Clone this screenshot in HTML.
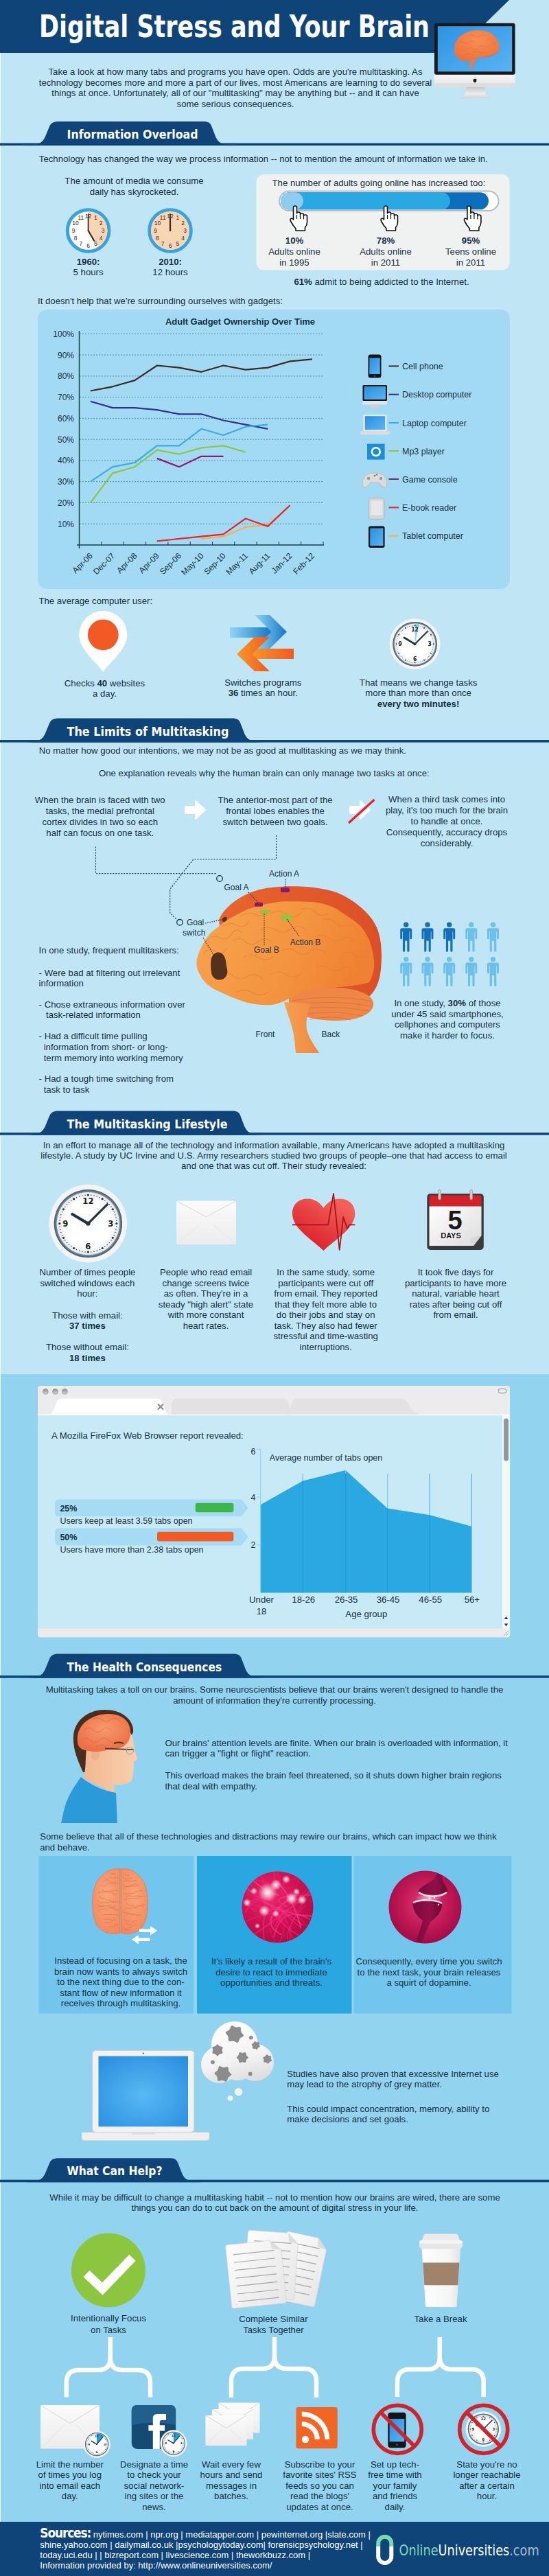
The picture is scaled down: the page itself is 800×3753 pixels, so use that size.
<!DOCTYPE html>
<html><head><meta charset="utf-8"><title>Digital Stress and Your Brain</title>
<style>
html,body{margin:0;padding:0;background:#c0e6f6;}
body{width:800px;height:3753px;overflow:hidden;position:relative;}
svg{display:block;position:absolute;left:0;top:0;}
text{font-family:"Liberation Sans",Arial,sans-serif;font-size:13.2px;fill:#15303f;}
.c{text-anchor:middle;}
.b{font-weight:bold;}
.h{font-family:"DejaVu Sans Condensed","DejaVu Sans",sans-serif;font-weight:bold;font-size:18px;fill:#fff;}
.s{font-size:12px;}
</style></head>
<body>
<svg width="800" height="3753" viewBox="0 0 800 3753">
<defs>
<linearGradient id="gBlueArr" x1="0" x2="1" y1="0" y2="0"><stop offset="0" stop-color="#8fd6f6"/><stop offset="1" stop-color="#1677c4"/></linearGradient>
<linearGradient id="gOrArr" x1="0" x2="1" y1="0" y2="0"><stop offset="0" stop-color="#f59a2c"/><stop offset="1" stop-color="#f0591f"/></linearGradient>
<linearGradient id="gScreen" x1="0" x2="1" y1="0" y2="1"><stop offset="0" stop-color="#2a8ee0"/><stop offset="1" stop-color="#5ab6f2"/></linearGradient>
<linearGradient id="gBrainF" x1="0" x2="1" y1="0" y2="0.3"><stop offset="0" stop-color="#f7a450"/><stop offset="0.6" stop-color="#f4953f"/><stop offset="1" stop-color="#ef8232"/></linearGradient>
<linearGradient id="gBrainBack" x1="0" x2="1" y1="0" y2="0"><stop offset="0" stop-color="#e8652f"/><stop offset="1" stop-color="#dc4f26"/></linearGradient>
<linearGradient id="gStem" x1="0" x2="1" y1="0" y2="0"><stop offset="0" stop-color="#f5a050"/><stop offset="1" stop-color="#ee8a40"/></linearGradient>
<radialGradient id="gBrain" cx="0.45" cy="0.4" r="0.7"><stop offset="0" stop-color="#f7a560"/><stop offset="1" stop-color="#ef7a34"/></radialGradient>
<radialGradient id="gClockRing" cx="0.5" cy="0.5" r="0.5"><stop offset="0.88" stop-color="#a9b8bf"/><stop offset="1" stop-color="#3b5260"/></radialGradient>
<radialGradient id="gClockFace" cx="0.5" cy="0.5" r="0.5"><stop offset="0.75" stop-color="#ffffff"/><stop offset="1" stop-color="#e4e8ea"/></radialGradient>
<linearGradient id="gEnv" x1="0" x2="0" y1="0" y2="1"><stop offset="0" stop-color="#fbfbfb"/><stop offset="1" stop-color="#ececec"/></linearGradient>
<linearGradient id="gHeart" x1="0.8" x2="0.2" y1="0.1" y2="0.9"><stop offset="0" stop-color="#f5605a"/><stop offset="1" stop-color="#d81e28"/></linearGradient>
<linearGradient id="gPage" x1="0" x2="1" y1="0" y2="1"><stop offset="0" stop-color="#ffffff"/><stop offset="1" stop-color="#dcdcdc"/></linearGradient>
<linearGradient id="gDot" x1="0" x2="0" y1="0" y2="1"><stop offset="0" stop-color="#8d8d8d"/><stop offset="1" stop-color="#d8d8d8"/></linearGradient>
<linearGradient id="gSkin" x1="0" x2="1" y1="0" y2="0"><stop offset="0" stop-color="#f1b890"/><stop offset="1" stop-color="#f8cfae"/></linearGradient>
<radialGradient id="gBrainH" cx="0.5" cy="0.4" r="0.6"><stop offset="0" stop-color="#f79a6e"/><stop offset="1" stop-color="#ec6f45"/></radialGradient>
<radialGradient id="gBrainT" cx="0.5" cy="0.4" r="0.7"><stop offset="0" stop-color="#f8a47c"/><stop offset="1" stop-color="#f2875a"/></radialGradient>
<radialGradient id="gNeuro" cx="0.4" cy="0.35" r="0.7"><stop offset="0" stop-color="#e8286a"/><stop offset="0.6" stop-color="#cc1050"/><stop offset="1" stop-color="#b00c44"/></radialGradient>
<radialGradient id="gGlow"><stop offset="0" stop-color="#fff" stop-opacity="1"/><stop offset="1" stop-color="#fff" stop-opacity="0"/></radialGradient>
<radialGradient id="gSyn" cx="0.5" cy="0.45" r="0.55"><stop offset="0" stop-color="#e0407a"/><stop offset="0.55" stop-color="#c41a58"/><stop offset="1" stop-color="#a20c44"/></radialGradient>
<radialGradient id="gLapScreen" cx="0.5" cy="0.55" r="0.7"><stop offset="0" stop-color="#58b9f3"/><stop offset="1" stop-color="#2a8ee0"/></radialGradient>
<radialGradient id="gCloud" cx="0.45" cy="0.4" r="0.6"><stop offset="0.5" stop-color="#f7f7f7"/><stop offset="1" stop-color="#d6d6d6"/></radialGradient>
<linearGradient id="gSheet" x1="0" x2="1" y1="0" y2="1"><stop offset="0" stop-color="#fdfdfd"/><stop offset="1" stop-color="#e6e6e6"/></linearGradient>
<linearGradient id="gCup" x1="0" x2="1" y1="0" y2="0"><stop offset="0" stop-color="#fdfdfd"/><stop offset="0.7" stop-color="#f6f6f6"/><stop offset="1" stop-color="#e2e2e2"/></linearGradient>
<linearGradient id="gChin" x1="0" x2="0" y1="0" y2="1"><stop offset="0" stop-color="#f6f6f6"/><stop offset="1" stop-color="#e4e4e4"/></linearGradient>
<linearGradient id="gStand" x1="0" x2="0" y1="0" y2="1"><stop offset="0" stop-color="#c8c8c8"/><stop offset="0.6" stop-color="#ececec"/><stop offset="1" stop-color="#d4d4d4"/></linearGradient>
<linearGradient id="gScreen2" x1="0" x2="1" y1="0" y2="1"><stop offset="0" stop-color="#2f93e3"/><stop offset="1" stop-color="#58b4f2"/></linearGradient>
<radialGradient id="gBrainHd" cx="0.5" cy="0.3" r="0.75"><stop offset="0" stop-color="#f78e58"/><stop offset="1" stop-color="#ee7038"/></radialGradient>
<linearGradient id="gCloud2" gradientUnits="userSpaceOnUse" x1="330" x2="355" y1="2945" y2="3036"><stop offset="0" stop-color="#ffffff"/><stop offset="0.6" stop-color="#f3f3f3"/><stop offset="1" stop-color="#dcdcdc"/></linearGradient>
<linearGradient id="gNeuron" x1="0" x2="1" y1="0" y2="0"><stop offset="0" stop-color="#7a0a3a"/><stop offset="0.6" stop-color="#930f48"/><stop offset="1" stop-color="#6c0833"/></linearGradient>
</defs>
<!-- backgrounds -->
<rect x="0" y="2002" width="800" height="1672" fill="#92d3f0"/>
<rect x="0" y="3674" width="800" height="79" fill="#0f4479"/>
<rect x="0" y="77" width="1" height="3597" fill="#eef8fd"/>

<!-- HEADER -->
<path d="M0 0 H742 L663 77 H0 Z" fill="#0f4479"/>
<text x="57" y="54" textLength="569" lengthAdjust="spacingAndGlyphs" style="font-family:'DejaVu Sans Condensed','DejaVu Sans',sans-serif;font-size:44px;font-weight:bold;fill:#fff">Digital Stress and Your Brain</text>
<g id="intro">
<text class="c" x="343" y="109">Take a look at how many tabs and programs you have open. Odds are you're multitasking. As</text>
<text class="c" x="343" y="124.5">technology becomes more and more a part of our lives, most Americans are learning to do several</text>
<text class="c" x="343" y="140">things at once. Unfortunately, all of our "multitasking" may be anything but -- and it can have</text>
<text class="c" x="343" y="156">some serious consequences.</text>
</g>




<g id="imac">
<path d="M633,127 V108.7 H750.6 V123 Q750.6,127 746.6,127 Z" fill="url(#gChin)"/>
<path d="M637,127 H746.6 Q750.6,127 750.6,123 V121 H633 V123 Q633,127 637,127 Z" fill="#dedede"/>
<rect x="633" y="33.8" width="117.6" height="75" rx="3" fill="#1a1a1a"/>
<rect x="637.8" y="38.2" width="108.4" height="66.1" fill="url(#gScreen2)"/>
<path d="M679.6,127 H706 L708,138 L714.3,141.5 V143 H670.5 V141.5 L677.6,138 Z" fill="url(#gStand)"/>
<path d="M692.2,114.3 q1.2,-0.3 1.6,-1.6 q-1.3,0.1 -1.6,1.6 Z M690.2,115.3 q1.6,-0.9 2.2,0 q0.8,-0.9 2.3,0 q-1.3,1 -0.2,2.6 q-0.5,1.6 -1.3,2.2 q-0.8,0.4 -1,0 q-0.4,0.3 -1.1,0 q-1.4,-1.1 -1.6,-2.9 q0,-1.6 0.7,-1.9 Z" fill="#1a1a1a"/>
</g>
<g id="hbrain">
<path d="M686.9,85 C687,90 684,95 682.8,99.1 L687.7,99.1 C690,95 692,90 694.3,85 Z" fill="#f07a44"/>
<path d="M662.3,73.7 C661.5,68 662.5,64 664.8,60.6 C667,56 670,52.5 674.6,49.9 C680,46.5 685,44.8 691,44.2 C697,43.6 702,44 707.4,45 C713,46.5 717,49 720.5,52.4 C724,56 726,60 727,63.9 C728,67 728,71 727,73.7 C726,76 724,77 722,77.8 C718,80 714,81 710.7,81.9 C706,82.8 702,83 699,83.5 C696,84 694,85 690,86.5 C686,88 682,89.5 677.9,89.3 C674,89 671,87 668,85.2 C666,83.5 664.5,82 664,80.3 C663,78 662.5,76 662.3,73.7 Z" fill="url(#gBrainHd)"/>
<path d="M700,83.3 C706,82.7 712,81.5 718,79 C722,77.5 725,76 726.5,74 C724,79 718,82 712,83.5 C707,84.5 703,84.5 700,83.3 Z" fill="#e8693a" opacity="0.6"/>
<g stroke="#e0642f" stroke-width="0.7" fill="none" opacity="0.55"><path d="M668,62 q4,-3 8,0 q4,3 8,-1 q4,-3 8,0"/><path d="M665,72 q4,-3 8,0 q4,3 8,-1 q4,-3 8,0 q4,3 8,-1"/><path d="M684,52 q4,-3 8,1 q4,3 8,-1 q4,-3 8,2"/><path d="M698,68 q4,-3 8,0 q4,3 8,-2 q4,-2 7,1"/><path d="M710,58 q4,-2 7,3 q3,4 7,1"/><path d="M670,80 q5,3 10,-1 q5,-3 10,2"/><path d="M690,76 q5,-3 10,0 q5,3 9,-1"/></g>
</g>

<rect x="0" y="208.5" width="800" height="3.6" fill="#0f4479"/>
<path d="M34,212.1 C55,212.1 61,209.1 65.5,200.1 L72,184.5 C74.5,179 77.5,177 86,177 H296.0 C304.0,177 306.5,179 308.5,184.5 L314.5,200.1 C319.0,209.1 325.0,212.1 346.0,212.1 Z" fill="#0f4479"/>
<text class="h" x="97.5" y="202" textLength="191" lengthAdjust="spacingAndGlyphs">Information Overload</text>
<rect x="0" y="1078.0" width="800" height="3.6" fill="#0f4479"/>
<path d="M34,1081.6 C55,1081.6 61,1078.6 65.5,1069.6 L72,1054.0 C74.5,1048.5 77.5,1046.5 86,1046.5 H338.0 C346.0,1046.5 348.5,1048.5 350.5,1054.0 L356.5,1069.6 C361.0,1078.6 367.0,1081.6 388.0,1081.6 Z" fill="#0f4479"/>
<text class="h" x="97.5" y="1071.5" textLength="236" lengthAdjust="spacingAndGlyphs">The Limits of Multitasking</text>
<rect x="0" y="1650.1" width="800" height="3.6" fill="#0f4479"/>
<path d="M34,1653.6999999999998 C55,1653.6999999999998 61,1650.6999999999998 65.5,1641.6999999999998 L72,1626.1 C74.5,1620.6 77.5,1618.6 86,1618.6 H338.0 C346.0,1618.6 348.5,1620.6 350.5,1626.1 L356.5,1641.6999999999998 C361.0,1650.6999999999998 367.0,1653.6999999999998 388.0,1653.6999999999998 Z" fill="#0f4479"/>
<text class="h" x="97.5" y="1643.6" textLength="234" lengthAdjust="spacingAndGlyphs">The Multitasking Lifestyle</text>
<rect x="0" y="2441.1" width="800" height="3.6" fill="#0f4479"/>
<path d="M34,2444.7 C55,2444.7 61,2441.7 65.5,2432.7 L72,2417.1 C74.5,2411.6 77.5,2409.6 86,2409.6 H339.6 C347.6,2409.6 350.1,2411.6 352.1,2417.1 L358.1,2432.7 C362.6,2441.7 368.6,2444.7 389.6,2444.7 Z" fill="#0f4479"/>
<text class="h" x="97.5" y="2434.6" textLength="225.6" lengthAdjust="spacingAndGlyphs">The Health Consequences</text>
<rect x="0" y="3175.7" width="800" height="3.6" fill="#0f4479"/>
<path d="M34,3179.2999999999997 C55,3179.2999999999997 61,3176.2999999999997 65.5,3167.2999999999997 L72,3151.7 C74.5,3146.2 77.5,3144.2 86,3144.2 H247.0 C255.0,3144.2 257.5,3146.2 259.5,3151.7 L265.5,3167.2999999999997 C270.0,3176.2999999999997 276.0,3179.2999999999997 297.0,3179.2999999999997 Z" fill="#0f4479"/>
<text class="h" x="97.5" y="3169.2" textLength="139" lengthAdjust="spacingAndGlyphs">What Can Help?</text>

<text x="56.8" y="236">Technology has changed the way we process information -- not to mention the amount of information we take in.</text>
<text class="c" x="195.5" y="268">The amount of media we consume</text>
<text class="c" x="195.5" y="284">daily has skyrocketed.</text>
<circle cx="128.6" cy="336" r="30.3" fill="#fff" stroke="#3aa3dc" stroke-width="5"/>
<path d="M128.6,336 L128.6,308.2 A27.8,27.8 0 0 1 142.5,360.1 Z" fill="#f8d5b3"/>
<text x="139.3" y="320.4" class="c" style="font-size:8.5px;fill:#3b2b22">1</text>
<text x="147.2" y="328.2" class="c" style="font-size:8.5px;fill:#3b2b22">2</text>
<text x="150.1" y="339.0" class="c" style="font-size:8.5px;fill:#3b2b22">3</text>
<text x="147.2" y="349.8" class="c" style="font-size:8.5px;fill:#3b2b22">4</text>
<text x="139.3" y="357.6" class="c" style="font-size:8.5px;fill:#3b2b22">5</text>
<text x="128.6" y="360.5" class="c" style="font-size:8.5px;fill:#3b2b22">6</text>
<text x="117.8" y="357.6" class="c" style="font-size:8.5px;fill:#3b2b22">7</text>
<text x="110.0" y="349.8" class="c" style="font-size:8.5px;fill:#3b2b22">8</text>
<text x="107.1" y="339.0" class="c" style="font-size:8.5px;fill:#3b2b22">9</text>
<text x="110.0" y="328.2" class="c" style="font-size:8.5px;fill:#3b2b22">10</text>
<text x="117.8" y="320.4" class="c" style="font-size:8.5px;fill:#3b2b22">11</text>
<text x="128.6" y="317.5" class="c" style="font-size:8.5px;fill:#3b2b22">12</text>
<line x1="128.6" y1="336" x2="128.6" y2="312" stroke="#3b2b22" stroke-width="1.8" stroke-linecap="round"/>
<line x1="128.6" y1="336" x2="137.1" y2="350.7" stroke="#3b2b22" stroke-width="2.2" stroke-linecap="round"/>
<circle cx="248" cy="336" r="30.3" fill="#fff" stroke="#3aa3dc" stroke-width="5"/>
<circle cx="248" cy="336" r="27.8" fill="#f8d5b3"/>
<text x="258.8" y="320.4" class="c" style="font-size:8.5px;fill:#3b2b22">1</text>
<text x="266.6" y="328.2" class="c" style="font-size:8.5px;fill:#3b2b22">2</text>
<text x="269.5" y="339.0" class="c" style="font-size:8.5px;fill:#3b2b22">3</text>
<text x="266.6" y="349.8" class="c" style="font-size:8.5px;fill:#3b2b22">4</text>
<text x="258.8" y="357.6" class="c" style="font-size:8.5px;fill:#3b2b22">5</text>
<text x="248.0" y="360.5" class="c" style="font-size:8.5px;fill:#3b2b22">6</text>
<text x="237.2" y="357.6" class="c" style="font-size:8.5px;fill:#3b2b22">7</text>
<text x="229.4" y="349.8" class="c" style="font-size:8.5px;fill:#3b2b22">8</text>
<text x="226.5" y="339.0" class="c" style="font-size:8.5px;fill:#3b2b22">9</text>
<text x="229.4" y="328.2" class="c" style="font-size:8.5px;fill:#3b2b22">10</text>
<text x="237.2" y="320.4" class="c" style="font-size:8.5px;fill:#3b2b22">11</text>
<text x="248.0" y="317.5" class="c" style="font-size:8.5px;fill:#3b2b22">12</text>
<line x1="248" y1="336" x2="248" y2="312" stroke="#3b2b22" stroke-width="1.8" stroke-linecap="round"/>
<line x1="248" y1="336" x2="248.0" y2="319.0" stroke="#3b2b22" stroke-width="2.2" stroke-linecap="round"/>
<text class="c b" x="128.6" y="385.5">1960:</text><text class="c" x="128.6" y="401">5 hours</text>
<text class="c b" x="248" y="385.5">2010:</text><text class="c" x="248" y="401">12 hours</text>
<rect x="373.5" y="254" width="369" height="139.5" rx="11" fill="#f0f2f2"/>
<text x="396.5" y="271">The number of adults going online has increased too:</text>
<rect x="407" y="278.5" width="319.5" height="28.5" rx="14.25" fill="#fff" stroke="#b7bec3" stroke-width="2"/>
<rect x="409" y="280.3" width="303" height="25" rx="12.5" fill="#0b6fbe"/>
<rect x="409" y="280.3" width="247" height="25" rx="12.5" fill="#2aa8e2"/>
<rect x="409" y="280.3" width="33" height="25" rx="12.5" fill="#8dcdf0"/>
<g transform="translate(422.5,300)"><path d="M5 2.5 Q5 0 7.5 0 Q10 0 10 2.5 L10 11 Q10 9 12.5 9 Q15 9 15 11 L15 12.5 Q15 11 17.5 11 Q20 11 20 13 L20 14.5 Q20 13 22.5 13 Q25 13 25 15 L25 24 Q25 28 22 31.5 L22 36 L8.5 36 L8.5 33 Q5 29.5 1.5 23 Q-0.5 19.5 1.5 18.5 Q3.5 17.5 5 20 Z" fill="#fff" stroke="#111" stroke-width="1.6" stroke-linejoin="round"/><path d="M10 13 V19 M15 13 V19 M20 15 V19.5" stroke="#111" stroke-width="1.2"/></g>
<g transform="translate(554.5,300)"><path d="M5 2.5 Q5 0 7.5 0 Q10 0 10 2.5 L10 11 Q10 9 12.5 9 Q15 9 15 11 L15 12.5 Q15 11 17.5 11 Q20 11 20 13 L20 14.5 Q20 13 22.5 13 Q25 13 25 15 L25 24 Q25 28 22 31.5 L22 36 L8.5 36 L8.5 33 Q5 29.5 1.5 23 Q-0.5 19.5 1.5 18.5 Q3.5 17.5 5 20 Z" fill="#fff" stroke="#111" stroke-width="1.6" stroke-linejoin="round"/><path d="M10 13 V19 M15 13 V19 M20 15 V19.5" stroke="#111" stroke-width="1.2"/></g>
<g transform="translate(675.9,300)"><path d="M5 2.5 Q5 0 7.5 0 Q10 0 10 2.5 L10 11 Q10 9 12.5 9 Q15 9 15 11 L15 12.5 Q15 11 17.5 11 Q20 11 20 13 L20 14.5 Q20 13 22.5 13 Q25 13 25 15 L25 24 Q25 28 22 31.5 L22 36 L8.5 36 L8.5 33 Q5 29.5 1.5 23 Q-0.5 19.5 1.5 18.5 Q3.5 17.5 5 20 Z" fill="#fff" stroke="#111" stroke-width="1.6" stroke-linejoin="round"/><path d="M10 13 V19 M15 13 V19 M20 15 V19.5" stroke="#111" stroke-width="1.2"/></g>
<text class="c b" x="429" y="355">10%</text><text class="c" x="429" y="371">Adults online</text><text class="c" x="429" y="386.5">in 1995</text>
<text class="c b" x="562" y="355">78%</text><text class="c" x="562" y="371">Adults online</text><text class="c" x="562" y="386.5">in 2011</text>
<text class="c b" x="686" y="355">95%</text><text class="c" x="686" y="371">Teens online</text><text class="c" x="686" y="386.5">in 2011</text>
<text class="c" x="556" y="415"><tspan class="b">61%</tspan> admit to being addicted to the Internet.</text>
<text x="55" y="442.8">It doesn't help that we're surrounding ourselves with gadgets:</text>
<rect x="55" y="451" width="688" height="407" rx="14" fill="#a3daf3"/>
<text class="b c" x="350" y="473" textLength="218" style="font-size:13px">Adult Gadget Ownership Over Time</text>
<line x1="116" x2="470" y1="763.2" y2="763.2" stroke="#5a8aa5" stroke-width="1" stroke-dasharray="2,2"/>
<text x="108" y="767.5" style="font-size:12px;text-anchor:end">10%</text>
<line x1="116" x2="470" y1="732.5" y2="732.5" stroke="#5a8aa5" stroke-width="1" stroke-dasharray="2,2"/>
<text x="108" y="736.8" style="font-size:12px;text-anchor:end">20%</text>
<line x1="116" x2="470" y1="701.7" y2="701.7" stroke="#5a8aa5" stroke-width="1" stroke-dasharray="2,2"/>
<text x="108" y="706.0" style="font-size:12px;text-anchor:end">30%</text>
<line x1="116" x2="470" y1="671.0" y2="671.0" stroke="#5a8aa5" stroke-width="1" stroke-dasharray="2,2"/>
<text x="108" y="675.3" style="font-size:12px;text-anchor:end">40%</text>
<line x1="116" x2="470" y1="640.2" y2="640.2" stroke="#5a8aa5" stroke-width="1" stroke-dasharray="2,2"/>
<text x="108" y="644.5" style="font-size:12px;text-anchor:end">50%</text>
<line x1="116" x2="470" y1="609.4" y2="609.4" stroke="#5a8aa5" stroke-width="1" stroke-dasharray="2,2"/>
<text x="108" y="613.7" style="font-size:12px;text-anchor:end">60%</text>
<line x1="116" x2="470" y1="578.7" y2="578.7" stroke="#5a8aa5" stroke-width="1" stroke-dasharray="2,2"/>
<text x="108" y="583.0" style="font-size:12px;text-anchor:end">70%</text>
<line x1="116" x2="470" y1="547.9" y2="547.9" stroke="#5a8aa5" stroke-width="1" stroke-dasharray="2,2"/>
<text x="108" y="552.2" style="font-size:12px;text-anchor:end">80%</text>
<line x1="116" x2="470" y1="517.2" y2="517.2" stroke="#5a8aa5" stroke-width="1" stroke-dasharray="2,2"/>
<text x="108" y="521.5" style="font-size:12px;text-anchor:end">90%</text>
<line x1="116" x2="470" y1="486.4" y2="486.4" stroke="#5a8aa5" stroke-width="1" stroke-dasharray="2,2"/>
<text x="108" y="490.7" style="font-size:12px;text-anchor:end">100%</text>
<line x1="115.5" x2="115.5" y1="482" y2="799" stroke="#1d3a4f" stroke-width="1.5"/>
<line x1="112" x2="472" y1="794" y2="794" stroke="#1d3a4f" stroke-width="1.6"/>
<line x1="148.0" x2="148.0" y1="789" y2="794" stroke="#1d3a4f" stroke-width="1"/>
<line x1="180.3" x2="180.3" y1="789" y2="794" stroke="#1d3a4f" stroke-width="1"/>
<line x1="212.6" x2="212.6" y1="789" y2="794" stroke="#1d3a4f" stroke-width="1"/>
<line x1="244.9" x2="244.9" y1="789" y2="794" stroke="#1d3a4f" stroke-width="1"/>
<line x1="277.2" x2="277.2" y1="789" y2="794" stroke="#1d3a4f" stroke-width="1"/>
<line x1="309.5" x2="309.5" y1="789" y2="794" stroke="#1d3a4f" stroke-width="1"/>
<line x1="341.8" x2="341.8" y1="789" y2="794" stroke="#1d3a4f" stroke-width="1"/>
<line x1="374.1" x2="374.1" y1="789" y2="794" stroke="#1d3a4f" stroke-width="1"/>
<line x1="406.4" x2="406.4" y1="789" y2="794" stroke="#1d3a4f" stroke-width="1"/>
<line x1="438.7" x2="438.7" y1="789" y2="794" stroke="#1d3a4f" stroke-width="1"/>
<line x1="471.0" x2="471.0" y1="789" y2="794" stroke="#1d3a4f" stroke-width="1"/>
<text x="135.8" y="810.5" transform="rotate(-45 135.8 810.5)" style="font-size:12px;text-anchor:end">Apr-06</text>
<text x="168.1" y="810.5" transform="rotate(-45 168.1 810.5)" style="font-size:12px;text-anchor:end">Dec-07</text>
<text x="200.4" y="810.5" transform="rotate(-45 200.4 810.5)" style="font-size:12px;text-anchor:end">Apr-08</text>
<text x="232.8" y="810.5" transform="rotate(-45 232.8 810.5)" style="font-size:12px;text-anchor:end">Apr-09</text>
<text x="265.0" y="810.5" transform="rotate(-45 265.0 810.5)" style="font-size:12px;text-anchor:end">Sep-06</text>
<text x="297.4" y="810.5" transform="rotate(-45 297.4 810.5)" style="font-size:12px;text-anchor:end">May-10</text>
<text x="329.6" y="810.5" transform="rotate(-45 329.6 810.5)" style="font-size:12px;text-anchor:end">Sep-10</text>
<text x="361.9" y="810.5" transform="rotate(-45 361.9 810.5)" style="font-size:12px;text-anchor:end">May-11</text>
<text x="394.2" y="810.5" transform="rotate(-45 394.2 810.5)" style="font-size:12px;text-anchor:end">Aug-11</text>
<text x="426.5" y="810.5" transform="rotate(-45 426.5 810.5)" style="font-size:12px;text-anchor:end">Jan-12</text>
<text x="458.9" y="810.5" transform="rotate(-45 458.9 810.5)" style="font-size:12px;text-anchor:end">Feb-12</text>
<polyline points="131.8,569.5 164.1,563.3 196.4,554.1 228.8,532.5 261.0,535.6 293.4,541.8 325.6,532.5 357.9,538.7 390.2,535.6 422.5,526.4 454.9,523.3" fill="none" stroke="#3d2b22" stroke-width="2.2" stroke-linejoin="round"/>
<polyline points="131.8,584.8 164.1,594.1 196.4,594.1 228.8,597.1 261.0,603.3 293.4,603.3 325.6,612.5 357.9,618.7 390.2,624.8" fill="none" stroke="#2e3192" stroke-width="2.2" stroke-linejoin="round"/>
<polyline points="131.8,701.7 164.1,680.2 196.4,674.0 228.8,649.4 261.0,649.4 293.4,624.8 325.6,634.0 357.9,621.7 390.2,618.7" fill="none" stroke="#35aee6" stroke-width="2.2" stroke-linejoin="round"/>
<polyline points="131.8,732.5 164.1,689.4 196.4,680.2 228.8,655.6 261.0,661.7 293.4,652.5 325.6,649.4 357.9,658.7" fill="none" stroke="#8dc63f" stroke-width="2.2" stroke-linejoin="round"/>
<polyline points="228.8,667.9 261.0,680.2 293.4,664.8 325.6,664.8" fill="none" stroke="#8a1c6d" stroke-width="2.2" stroke-linejoin="round"/>
<polyline points="293.4,784.8 325.6,781.7 357.9,767.9 390.2,764.8 422.5,736.2" fill="none" stroke="#f5b14a" stroke-width="2.2" stroke-linejoin="round"/>
<polyline points="228.8,788.3 325.6,778.3 357.9,755.5 390.2,766.9 422.5,736.2" fill="none" stroke="#e2262b" stroke-width="2.2" stroke-linejoin="round"/>
<rect x="566.5" y="532.4" width="14.5" height="2" fill="#3d2b22"/>
<text x="586" y="537.9" style="font-size:12.5px">Cell phone</text>
<rect x="566.5" y="573.7" width="14.5" height="2" fill="#2e3192"/>
<text x="586" y="579.2" style="font-size:12.5px">Desktop computer</text>
<rect x="566.5" y="615.0" width="14.5" height="2" fill="#35aee6"/>
<text x="586" y="620.5" style="font-size:12.5px">Laptop computer</text>
<rect x="566.5" y="656.0" width="14.5" height="2" fill="#8dc63f"/>
<text x="586" y="661.5" style="font-size:12.5px">Mp3 player</text>
<rect x="566.5" y="697.0" width="14.5" height="2" fill="#8a1c6d"/>
<text x="586" y="702.5" style="font-size:12.5px">Game console</text>
<rect x="566.5" y="738.4" width="14.5" height="2" fill="#e2262b"/>
<text x="586" y="743.9" style="font-size:12.5px">E-book reader</text>
<rect x="566.5" y="779.8" width="14.5" height="2" fill="#f5b14a"/>
<text x="586" y="785.3" style="font-size:12.5px">Tablet computer</text>

<g id="legicons">
<rect x="536.5" y="516.5" width="19" height="34" rx="3.5" fill="#151515"/><rect x="538.3" y="521.5" width="15.4" height="23.5" fill="url(#gScreen)"/><circle cx="546" cy="547.7" r="1.5" fill="#444"/>
<rect x="528.5" y="561" width="35.5" height="23" rx="1.5" fill="#151515"/><rect x="530.5" y="563" width="31.5" height="19" fill="url(#gScreen)"/><rect x="528.5" y="584" width="35.5" height="5.5" fill="#e4e4e4"/><path d="M541 589.5 H551 L553 594 H539 Z" fill="#d0d0d0"/>
<rect x="529.5" y="604" width="34" height="24.5" rx="1.5" fill="#ececec"/><rect x="531.8" y="606.2" width="29.4" height="20" fill="url(#gScreen)"/><path d="M525 628.5 H568 V631 Q568 633.5 565 633.5 H528 Q525 633.5 525 631 Z" fill="#dcdcdc"/>
<rect x="535" y="646.6" width="25.6" height="23" fill="#1b8fd5"/><circle cx="547.8" cy="658.1" r="7.2" fill="#fff"/><circle cx="547.8" cy="658.1" r="4.6" fill="#1b8fd5"/>
<path d="M533 692 Q546 686 559 692 Q566 700 563 709 Q560 712 556 708 L552 703 H540 L536 708 Q532 712 529 709 Q526 700 533 692 Z" fill="#dcdcdc" stroke="#b5b5b5" stroke-width="0.8"/><circle cx="537" cy="697" r="2.2" fill="#999"/><circle cx="555" cy="697" r="2.2" fill="#999"/><circle cx="546" cy="693" r="1.2" fill="#e33"/><circle cx="549" cy="691.5" r="1.2" fill="#3a3"/>
<rect x="537.6" y="725.7" width="22.4" height="30.6" rx="3" fill="#d6d6d6" stroke="#b0b0b0" stroke-width="0.8"/><rect x="540.5" y="729.5" width="16.6" height="21" fill="#e8e8e8"/>
<rect x="537" y="766.5" width="23.6" height="31.5" rx="3" fill="#151515"/><rect x="539.2" y="769.5" width="19.2" height="25.5" fill="url(#gScreen)"/>
</g>
<text x="56.4" y="880">The average computer user:</text>
<path d="M150.3,979 C141,965 115.5,947 115.3,925 A35,35 0 1 1 185.3,925 C185.1,947 159.6,965 150.3,979 Z" fill="#fff"/>
<circle cx="150.3" cy="924.8" r="22.4" fill="#f15a24"/>
<text class="c" x="152.5" y="999.5">Checks <tspan class="b">40</tspan> websites</text><text class="c" x="152.5" y="1015">a day.</text>
<rect x="335" y="914" width="60" height="15" fill="url(#gBlueArr)"/>
<path d="M371,896 H393 L418,920.5 L393,945 H371 L395.5,920.5 Z" fill="url(#gBlueArr)"/>
<rect x="366" y="945" width="62" height="15" fill="url(#gOrArr)"/>
<path d="M393,928 H371 L345,953 L371,978 H393 L367.5,953 Z" fill="url(#gOrArr)"/>
<text class="c" x="383.3" y="998.5">Switches programs</text><text class="c" x="383.3" y="1014"><tspan class="b">36</tspan> times an hour.</text>
<circle cx="604.6" cy="938.3" r="37.0" fill="#f2f4f5"/>
<circle cx="604.6" cy="938.3" r="32.4" fill="url(#gClockRing)"/>
<circle cx="604.6" cy="938.3" r="29.8" fill="url(#gClockFace)"/>
<path d="M604.6,938.3 L604.6,908.5 A29.8,29.8 0 0 1 610.8,909.2 Z" fill="#8fd3f3"/>
<circle cx="604.6" cy="911.3" r="1.04" fill="#2a3a44"/>
<circle cx="607.4" cy="911.4" r="0.49" fill="#2a3a44"/>
<circle cx="610.2" cy="911.9" r="0.49" fill="#2a3a44"/>
<circle cx="612.9" cy="912.6" r="0.49" fill="#2a3a44"/>
<circle cx="615.6" cy="913.6" r="0.49" fill="#2a3a44"/>
<circle cx="618.1" cy="914.9" r="1.04" fill="#2a3a44"/>
<circle cx="620.5" cy="916.4" r="0.49" fill="#2a3a44"/>
<circle cx="622.7" cy="918.2" r="0.49" fill="#2a3a44"/>
<circle cx="624.7" cy="920.2" r="0.49" fill="#2a3a44"/>
<circle cx="626.5" cy="922.4" r="0.49" fill="#2a3a44"/>
<circle cx="628.0" cy="924.8" r="1.04" fill="#2a3a44"/>
<circle cx="629.3" cy="927.3" r="0.49" fill="#2a3a44"/>
<circle cx="630.3" cy="930.0" r="0.49" fill="#2a3a44"/>
<circle cx="631.0" cy="932.7" r="0.49" fill="#2a3a44"/>
<circle cx="631.5" cy="935.5" r="0.49" fill="#2a3a44"/>
<circle cx="631.6" cy="938.3" r="1.04" fill="#2a3a44"/>
<circle cx="631.5" cy="941.1" r="0.49" fill="#2a3a44"/>
<circle cx="631.0" cy="943.9" r="0.49" fill="#2a3a44"/>
<circle cx="630.3" cy="946.6" r="0.49" fill="#2a3a44"/>
<circle cx="629.3" cy="949.3" r="0.49" fill="#2a3a44"/>
<circle cx="628.0" cy="951.8" r="1.04" fill="#2a3a44"/>
<circle cx="626.5" cy="954.2" r="0.49" fill="#2a3a44"/>
<circle cx="624.7" cy="956.4" r="0.49" fill="#2a3a44"/>
<circle cx="622.7" cy="958.4" r="0.49" fill="#2a3a44"/>
<circle cx="620.5" cy="960.2" r="0.49" fill="#2a3a44"/>
<circle cx="618.1" cy="961.7" r="1.04" fill="#2a3a44"/>
<circle cx="615.6" cy="963.0" r="0.49" fill="#2a3a44"/>
<circle cx="612.9" cy="964.0" r="0.49" fill="#2a3a44"/>
<circle cx="610.2" cy="964.7" r="0.49" fill="#2a3a44"/>
<circle cx="607.4" cy="965.2" r="0.49" fill="#2a3a44"/>
<circle cx="604.6" cy="965.3" r="1.04" fill="#2a3a44"/>
<circle cx="601.8" cy="965.2" r="0.49" fill="#2a3a44"/>
<circle cx="599.0" cy="964.7" r="0.49" fill="#2a3a44"/>
<circle cx="596.3" cy="964.0" r="0.49" fill="#2a3a44"/>
<circle cx="593.6" cy="963.0" r="0.49" fill="#2a3a44"/>
<circle cx="591.1" cy="961.7" r="1.04" fill="#2a3a44"/>
<circle cx="588.7" cy="960.2" r="0.49" fill="#2a3a44"/>
<circle cx="586.5" cy="958.4" r="0.49" fill="#2a3a44"/>
<circle cx="584.5" cy="956.4" r="0.49" fill="#2a3a44"/>
<circle cx="582.7" cy="954.2" r="0.49" fill="#2a3a44"/>
<circle cx="581.2" cy="951.8" r="1.04" fill="#2a3a44"/>
<circle cx="579.9" cy="949.3" r="0.49" fill="#2a3a44"/>
<circle cx="578.9" cy="946.6" r="0.49" fill="#2a3a44"/>
<circle cx="578.2" cy="943.9" r="0.49" fill="#2a3a44"/>
<circle cx="577.7" cy="941.1" r="0.49" fill="#2a3a44"/>
<circle cx="577.6" cy="938.3" r="1.04" fill="#2a3a44"/>
<circle cx="577.7" cy="935.5" r="0.49" fill="#2a3a44"/>
<circle cx="578.2" cy="932.7" r="0.49" fill="#2a3a44"/>
<circle cx="578.9" cy="930.0" r="0.49" fill="#2a3a44"/>
<circle cx="579.9" cy="927.3" r="0.49" fill="#2a3a44"/>
<circle cx="581.2" cy="924.8" r="1.04" fill="#2a3a44"/>
<circle cx="582.7" cy="922.4" r="0.49" fill="#2a3a44"/>
<circle cx="584.5" cy="920.2" r="0.49" fill="#2a3a44"/>
<circle cx="586.5" cy="918.2" r="0.49" fill="#2a3a44"/>
<circle cx="588.7" cy="916.4" r="0.49" fill="#2a3a44"/>
<circle cx="591.1" cy="914.9" r="1.04" fill="#2a3a44"/>
<circle cx="593.6" cy="913.6" r="0.49" fill="#2a3a44"/>
<circle cx="596.3" cy="912.6" r="0.49" fill="#2a3a44"/>
<circle cx="599.0" cy="911.9" r="0.49" fill="#2a3a44"/>
<circle cx="601.8" cy="911.4" r="0.49" fill="#2a3a44"/>
<text class="c b" x="604.6" y="919.9" style="font-size:8.5px;fill:#222;font-family:'DejaVu Sans Condensed',sans-serif">12</text>
<text class="c b" x="626.1" y="941.3" style="font-size:8.5px;fill:#222;font-family:'DejaVu Sans Condensed',sans-serif">3</text>
<text class="c b" x="604.6" y="962.8" style="font-size:8.5px;fill:#222;font-family:'DejaVu Sans Condensed',sans-serif">6</text>
<text class="c b" x="583.1" y="941.3" style="font-size:8.5px;fill:#222;font-family:'DejaVu Sans Condensed',sans-serif">9</text>
<line x1="604.6" y1="938.3" x2="589.0" y2="929.0" stroke="#1f3543" stroke-width="2.7" stroke-linecap="round"/>
<line x1="604.6" y1="938.3" x2="622.8" y2="920.0" stroke="#1f3543" stroke-width="2.1" stroke-linecap="round"/>
<circle cx="604.6" cy="938.3" r="2.1" fill="#1f3543"/>
<text class="c" x="609.6" y="998.5">That means we change tasks</text><text class="c" x="609.6" y="1014">more than more than once</text><text class="c b" x="609.6" y="1029.5">every two minutes!</text>

<text x="56.8" y="1098">No matter how good our intentions, we may not be as good at multitasking as we may think.</text>
<text x="144" y="1131">One explanation reveals why the human brain can only manage two tasks at once:</text>
<text class="c" x="145.8" y="1169.6">When the brain is faced with two</text><text class="c" x="145.8" y="1185.6">tasks, the medial prefrontal</text><text class="c" x="145.8" y="1201.6">cortex divides in two so each</text><text class="c" x="145.8" y="1217.6">half can focus on one task.</text>
<text class="c" x="401" y="1169.6">The anterior-most part of the</text><text class="c" x="401" y="1185.6">frontal lobes enables the</text><text class="c" x="401" y="1201.6">switch between two goals.</text>
<text class="c" x="651" y="1169.3">When a third task comes into</text><text class="c" x="651" y="1185.3">play, it's too much for the brain</text><text class="c" x="651" y="1201.3">to handle at once.</text><text class="c" x="651" y="1217.3">Consequently, accuracy drops</text><text class="c" x="651" y="1233.3">considerably.</text>
<path d="M271,1174 H284 V1167.5 Q284,1165 286.5,1167 L299,1178.5 Q301,1180 299,1181.5 L286.5,1193 Q284,1195 284,1192.5 V1186 H271 Q269,1186 269,1184 V1176 Q269,1174 271,1174 Z" fill="#fff"/>
<g transform="translate(240,0)"><path d="M271,1174 H284 V1167.5 Q284,1165 286.5,1167 L299,1178.5 Q301,1180 299,1181.5 L286.5,1193 Q284,1195 284,1192.5 V1186 H271 Q269,1186 269,1184 V1176 Q269,1174 271,1174 Z" fill="#fff"/></g>
<line x1="545.5" y1="1165" x2="508" y2="1199" stroke="#c0e6f6" stroke-width="6"/><line x1="545.5" y1="1165" x2="508" y2="1199" stroke="#e0262b" stroke-width="3.2"/>
<path d="M139.3 1233.6 V1272.6 H315" fill="none" stroke="#1b3448" stroke-width="1.2" stroke-dasharray="2,2"/>
<path d="M402.5 1217 V1252 H281.7 L247.7 1295.5 V1330 L258.5 1340.5" fill="none" stroke="#1b3448" stroke-width="1.2" stroke-dasharray="2,2"/>
<circle cx="320" cy="1280" r="4.3" fill="none" stroke="#1b3448" stroke-width="1.3"/>
<circle cx="262" cy="1343.8" r="4.3" fill="none" stroke="#1b3448" stroke-width="1.3"/>
<g id="brain">
<path d="M319,1340 C328,1318 360,1296 396,1293 C420,1290 460,1290 490,1300 C515,1310 540,1330 549,1351 C556,1368 558,1392 554,1420 C551,1436 545,1446 535,1455 C520,1460 500,1458 480,1455 L330,1440 Z" fill="url(#gBrainBack)"/>
<path d="M421,1452 C430,1440 470,1436 505,1440 C530,1444 546,1452 544,1465 C541,1480 515,1488 485,1487 C455,1486 425,1478 421,1465 Z" fill="#ee8646"/>
<g stroke="#d9693a" stroke-width="0.9" fill="none" opacity="0.75">
<path d="M426,1458 Q480,1448 540,1458"/><path d="M424,1465 Q480,1455 542,1466"/><path d="M428,1472 Q480,1462 538,1473"/><path d="M436,1479 Q482,1470 528,1480"/><path d="M452,1485 Q484,1478 512,1486"/>
</g>
<path d="M414,1460 C419,1478 426,1494 428,1508 C430,1519 430,1527 431,1534 L465,1534 C458,1523 450,1512 447,1500 C445,1488 448,1476 453,1462 Z" fill="url(#gStem)"/>
<path d="M286.4,1402 C287,1390 300,1363 312,1355 C324,1346 330,1340 337,1337 C350,1330 360,1324 370,1322 C390,1316 405,1313.5 417.6,1313.3 C435,1313 450,1313.5 461.3,1314.7 C480,1318 490,1323 497.7,1329.3 C510,1337 520,1344 527,1351 C535,1362 539,1370 541.4,1380.3 C544,1392 546,1400 545,1409.4 C544,1418 541,1426 537.8,1431.3 C520,1436 505,1437 490,1438.6 C475,1440 462,1440 454,1442 C440,1445 432,1450 425,1453 C415,1458 405,1463 396,1464 C385,1465 370,1463 359,1460.4 C348,1457 338,1453 330,1449.5 C320,1445 313,1442 308,1438.6 C300,1433 296,1429 293.7,1424 C289,1416 286,1410 286.4,1402 Z" fill="url(#gBrainF)"/>
<g stroke="#e27c2e" stroke-width="1.1" fill="none" opacity="0.55" stroke-linecap="round">
<path d="M296,1390 q8,-12 18,-4 q8,8 16,-4"/><path d="M300,1372 q10,-12 20,-6 q10,6 18,-6 q6,-8 14,-2"/><path d="M325,1350 q10,-8 20,-2 q10,6 18,-6"/><path d="M350,1335 q12,-8 24,-2 q10,4 20,-6"/>
<path d="M340,1370 q10,-6 18,2 q8,8 18,0 q10,-8 20,0"/><path d="M395,1330 q12,-6 22,2 q10,8 22,-2"/><path d="M440,1325 q10,-4 20,4 q8,8 18,2"/><path d="M470,1340 q10,-4 18,4 q8,8 18,4 q8,-2 14,6"/>
<path d="M380,1355 q10,-8 22,0 q10,8 22,-2 q10,-8 22,2"/><path d="M460,1365 q10,-6 20,2 q10,8 20,0 q8,-4 16,4"/><path d="M355,1395 q10,-8 22,0 q10,8 22,-2"/><path d="M410,1385 q12,-6 22,2 q10,8 22,-2 q10,-6 20,4"/>
<path d="M320,1420 q10,-6 20,2 q10,8 22,0 q10,-6 20,4"/><path d="M395,1420 q10,-8 22,0 q10,8 22,-2"/><path d="M460,1410 q10,-6 20,2 q10,6 20,-2 q6,-4 14,2"/><path d="M345,1445 q12,-6 24,2 q10,6 22,-2"/><path d="M500,1390 q10,-6 18,2 q8,6 16,0"/>
</g>
<path d="M310,1392 C314,1386 322,1386 326,1392 C330,1398 329,1405 331,1412 C333,1420 328,1427 321,1427.6 C314,1428 308,1423 308,1416 C307,1408 306,1398 310,1392 Z" fill="#55301c"/>
<path d="M323,1340 q3,-5 7,-4 q2,3 -1,6 q-4,3 -6,-2 Z" fill="#55301c"/>
<path d="M411,1293 h9 q2,0 2,2 v3 q0,2 -2,2 h-9 q-2,0 -2,-2 v-3 q0,-2 2,-2 Z" fill="#8b1a6b"/>
<path d="M373,1314.7 h8 q2,0 2,2 v2 q0,2 -2,2 h-8 q-2,0 -2,-2 v-2 q0,-2 2,-2 Z" fill="#8b1a6b"/>
<path d="M381,1325.6 h9 q2,0 2,2 v1.5 q0,2 -2,2 h-9 q-2,0 -2,-2 v-1.5 q0,-2 2,-2 Z" fill="#8dc63f"/>
<path d="M410,1334 q7,-2 14,-1 q4,2 1,6 q-6,3 -13,2 q-4,-3 -2,-7 Z" fill="#8dc63f"/>
</g>
<path d="M362 1300 L377 1316" fill="none" stroke="#1b3448" stroke-width="1.1" stroke-dasharray="1.6,1.6"/><path d="M385 1331 V1377" fill="none" stroke="#1b3448" stroke-width="1.1" stroke-dasharray="1.6,1.6"/><path d="M418 1339 L436 1364" fill="none" stroke="#1b3448" stroke-width="1.1" stroke-dasharray="1.6,1.6"/><path d="M299 1345 L323 1340" fill="none" stroke="#1b3448" stroke-width="1.1" stroke-dasharray="1.6,1.6"/><path d="M296 1366 L312 1392" fill="none" stroke="#1b3448" stroke-width="1.1" stroke-dasharray="1.6,1.6"/><path d="M416 1281 V1292" fill="none" stroke="#1b3448" stroke-width="1.1" stroke-dasharray="1.6,1.6"/>
<text x="326.5" y="1296.5" style="font-size:12px">Goal A</text><text x="392" y="1276.8" style="font-size:12px">Action A</text><text x="271.9" y="1348.2" style="font-size:12px">Goal</text><text x="266" y="1362.5" style="font-size:12px">switch</text>
<text x="370" y="1387.6" style="font-size:12px">Goal B</text><text x="422.7" y="1376.6" style="font-size:12px">Action B</text><text x="372.4" y="1511.4" style="font-size:12px">Front</text><text x="468.6" y="1511.4" style="font-size:12px">Back</text>
<text x="56.6" y="1389.4">In one study, frequent multitaskers:</text>
<text x="56.6" y="1421.6">- Were bad at filtering out irrelevant</text>
<text x="56.6" y="1437">information</text>
<text x="56.6" y="1468">- Chose extraneous information over</text>
<text x="67" y="1483.4">task-related information</text>
<text x="56.6" y="1514.4">- Had a difficult time pulling</text>
<text x="63.7" y="1530">information from short- or long-</text>
<text x="63.7" y="1545.7">term memory into working memory</text>
<text x="56.6" y="1576">- Had a tough time switching from</text>
<text x="63.7" y="1591.5">task to task</text>
<g transform="translate(591.7,1343.7)" fill="#1470b8"><circle cx="0" cy="3.6" r="3.7"/><path d="M-8.5,11 Q-8.5,8.5 -6,8.5 H6 Q8.5,8.5 8.5,11 V23 Q8.5,24.5 7,24.5 Q5.5,24.5 5.5,23 V13.5 H4.8 V41.5 Q4.8,43 3.2,43 Q1.6,43 1.6,41.5 V27 H-1.6 V41.5 Q-1.6,43 -3.2,43 Q-4.8,43 -4.8,41.5 V13.5 H-5.5 V23 Q-5.5,24.5 -7,24.5 Q-8.5,24.5 -8.5,23 Z"/></g>
<g transform="translate(623,1343.7)" fill="#1470b8"><circle cx="0" cy="3.6" r="3.7"/><path d="M-8.5,11 Q-8.5,8.5 -6,8.5 H6 Q8.5,8.5 8.5,11 V23 Q8.5,24.5 7,24.5 Q5.5,24.5 5.5,23 V13.5 H4.8 V41.5 Q4.8,43 3.2,43 Q1.6,43 1.6,41.5 V27 H-1.6 V41.5 Q-1.6,43 -3.2,43 Q-4.8,43 -4.8,41.5 V13.5 H-5.5 V23 Q-5.5,24.5 -7,24.5 Q-8.5,24.5 -8.5,23 Z"/></g>
<g transform="translate(654.7,1343.7)" fill="#1470b8"><circle cx="0" cy="3.6" r="3.7"/><path d="M-8.5,11 Q-8.5,8.5 -6,8.5 H6 Q8.5,8.5 8.5,11 V23 Q8.5,24.5 7,24.5 Q5.5,24.5 5.5,23 V13.5 H4.8 V41.5 Q4.8,43 3.2,43 Q1.6,43 1.6,41.5 V27 H-1.6 V41.5 Q-1.6,43 -3.2,43 Q-4.8,43 -4.8,41.5 V13.5 H-5.5 V23 Q-5.5,24.5 -7,24.5 Q-8.5,24.5 -8.5,23 Z"/></g>
<g transform="translate(686.8,1343.7)" fill="#6cc0ea"><circle cx="0" cy="3.6" r="3.7"/><path d="M-8.5,11 Q-8.5,8.5 -6,8.5 H6 Q8.5,8.5 8.5,11 V23 Q8.5,24.5 7,24.5 Q5.5,24.5 5.5,23 V13.5 H4.8 V41.5 Q4.8,43 3.2,43 Q1.6,43 1.6,41.5 V27 H-1.6 V41.5 Q-1.6,43 -3.2,43 Q-4.8,43 -4.8,41.5 V13.5 H-5.5 V23 Q-5.5,24.5 -7,24.5 Q-8.5,24.5 -8.5,23 Z"/></g>
<g transform="translate(718.5,1343.7)" fill="#6cc0ea"><circle cx="0" cy="3.6" r="3.7"/><path d="M-8.5,11 Q-8.5,8.5 -6,8.5 H6 Q8.5,8.5 8.5,11 V23 Q8.5,24.5 7,24.5 Q5.5,24.5 5.5,23 V13.5 H4.8 V41.5 Q4.8,43 3.2,43 Q1.6,43 1.6,41.5 V27 H-1.6 V41.5 Q-1.6,43 -3.2,43 Q-4.8,43 -4.8,41.5 V13.5 H-5.5 V23 Q-5.5,24.5 -7,24.5 Q-8.5,24.5 -8.5,23 Z"/></g>
<g transform="translate(591.7,1394)" fill="#6cc0ea"><circle cx="0" cy="3.6" r="3.7"/><path d="M-8.5,11 Q-8.5,8.5 -6,8.5 H6 Q8.5,8.5 8.5,11 V23 Q8.5,24.5 7,24.5 Q5.5,24.5 5.5,23 V13.5 H4.8 V41.5 Q4.8,43 3.2,43 Q1.6,43 1.6,41.5 V27 H-1.6 V41.5 Q-1.6,43 -3.2,43 Q-4.8,43 -4.8,41.5 V13.5 H-5.5 V23 Q-5.5,24.5 -7,24.5 Q-8.5,24.5 -8.5,23 Z"/></g>
<g transform="translate(623,1394)" fill="#6cc0ea"><circle cx="0" cy="3.6" r="3.7"/><path d="M-8.5,11 Q-8.5,8.5 -6,8.5 H6 Q8.5,8.5 8.5,11 V23 Q8.5,24.5 7,24.5 Q5.5,24.5 5.5,23 V13.5 H4.8 V41.5 Q4.8,43 3.2,43 Q1.6,43 1.6,41.5 V27 H-1.6 V41.5 Q-1.6,43 -3.2,43 Q-4.8,43 -4.8,41.5 V13.5 H-5.5 V23 Q-5.5,24.5 -7,24.5 Q-8.5,24.5 -8.5,23 Z"/></g>
<g transform="translate(654.7,1394)" fill="#6cc0ea"><circle cx="0" cy="3.6" r="3.7"/><path d="M-8.5,11 Q-8.5,8.5 -6,8.5 H6 Q8.5,8.5 8.5,11 V23 Q8.5,24.5 7,24.5 Q5.5,24.5 5.5,23 V13.5 H4.8 V41.5 Q4.8,43 3.2,43 Q1.6,43 1.6,41.5 V27 H-1.6 V41.5 Q-1.6,43 -3.2,43 Q-4.8,43 -4.8,41.5 V13.5 H-5.5 V23 Q-5.5,24.5 -7,24.5 Q-8.5,24.5 -8.5,23 Z"/></g>
<g transform="translate(686.8,1394)" fill="#6cc0ea"><circle cx="0" cy="3.6" r="3.7"/><path d="M-8.5,11 Q-8.5,8.5 -6,8.5 H6 Q8.5,8.5 8.5,11 V23 Q8.5,24.5 7,24.5 Q5.5,24.5 5.5,23 V13.5 H4.8 V41.5 Q4.8,43 3.2,43 Q1.6,43 1.6,41.5 V27 H-1.6 V41.5 Q-1.6,43 -3.2,43 Q-4.8,43 -4.8,41.5 V13.5 H-5.5 V23 Q-5.5,24.5 -7,24.5 Q-8.5,24.5 -8.5,23 Z"/></g>
<g transform="translate(718.5,1394)" fill="#6cc0ea"><circle cx="0" cy="3.6" r="3.7"/><path d="M-8.5,11 Q-8.5,8.5 -6,8.5 H6 Q8.5,8.5 8.5,11 V23 Q8.5,24.5 7,24.5 Q5.5,24.5 5.5,23 V13.5 H4.8 V41.5 Q4.8,43 3.2,43 Q1.6,43 1.6,41.5 V27 H-1.6 V41.5 Q-1.6,43 -3.2,43 Q-4.8,43 -4.8,41.5 V13.5 H-5.5 V23 Q-5.5,24.5 -7,24.5 Q-8.5,24.5 -8.5,23 Z"/></g>
<text class="c" x="652" y="1465.7">In one study, <tspan class="b">30%</tspan> of those</text><text class="c" x="652" y="1481.5">under 45 said smartphones,</text><text class="c" x="652" y="1497.3">cellphones and computers</text><text class="c" x="652" y="1513.1">make it harder to focus.</text>

<text class="c" x="399" y="1673.3">In an effort to manage all of the technology and information available, many Americans have adopted a multitasking</text><text class="c" x="399" y="1688.2">lifestyle. A study by UC Irvine and U.S. Army researchers studied two groups of people–one that had access to email</text><text class="c" x="399" y="1703.1">and one that was cut off. Their study revealed:</text>
<circle cx="128.4" cy="1782.6" r="56.8" fill="#f2f4f5"/>
<circle cx="128.4" cy="1782.6" r="49.7" fill="url(#gClockRing)"/>
<circle cx="128.4" cy="1782.6" r="45.7" fill="url(#gClockFace)"/>
<circle cx="128.4" cy="1741.1" r="1.60" fill="#2a3a44"/>
<circle cx="132.7" cy="1741.3" r="0.75" fill="#2a3a44"/>
<circle cx="137.0" cy="1742.0" r="0.75" fill="#2a3a44"/>
<circle cx="141.2" cy="1743.1" r="0.75" fill="#2a3a44"/>
<circle cx="145.3" cy="1744.7" r="0.75" fill="#2a3a44"/>
<circle cx="149.2" cy="1746.7" r="1.60" fill="#2a3a44"/>
<circle cx="152.8" cy="1749.0" r="0.75" fill="#2a3a44"/>
<circle cx="156.2" cy="1751.8" r="0.75" fill="#2a3a44"/>
<circle cx="159.2" cy="1754.8" r="0.75" fill="#2a3a44"/>
<circle cx="162.0" cy="1758.2" r="0.75" fill="#2a3a44"/>
<circle cx="164.3" cy="1761.8" r="1.60" fill="#2a3a44"/>
<circle cx="166.3" cy="1765.7" r="0.75" fill="#2a3a44"/>
<circle cx="167.9" cy="1769.8" r="0.75" fill="#2a3a44"/>
<circle cx="169.0" cy="1774.0" r="0.75" fill="#2a3a44"/>
<circle cx="169.7" cy="1778.3" r="0.75" fill="#2a3a44"/>
<circle cx="169.9" cy="1782.6" r="1.60" fill="#2a3a44"/>
<circle cx="169.7" cy="1786.9" r="0.75" fill="#2a3a44"/>
<circle cx="169.0" cy="1791.2" r="0.75" fill="#2a3a44"/>
<circle cx="167.9" cy="1795.4" r="0.75" fill="#2a3a44"/>
<circle cx="166.3" cy="1799.5" r="0.75" fill="#2a3a44"/>
<circle cx="164.3" cy="1803.3" r="1.60" fill="#2a3a44"/>
<circle cx="162.0" cy="1807.0" r="0.75" fill="#2a3a44"/>
<circle cx="159.2" cy="1810.4" r="0.75" fill="#2a3a44"/>
<circle cx="156.2" cy="1813.4" r="0.75" fill="#2a3a44"/>
<circle cx="152.8" cy="1816.2" r="0.75" fill="#2a3a44"/>
<circle cx="149.2" cy="1818.5" r="1.60" fill="#2a3a44"/>
<circle cx="145.3" cy="1820.5" r="0.75" fill="#2a3a44"/>
<circle cx="141.2" cy="1822.1" r="0.75" fill="#2a3a44"/>
<circle cx="137.0" cy="1823.2" r="0.75" fill="#2a3a44"/>
<circle cx="132.7" cy="1823.9" r="0.75" fill="#2a3a44"/>
<circle cx="128.4" cy="1824.1" r="1.60" fill="#2a3a44"/>
<circle cx="124.1" cy="1823.9" r="0.75" fill="#2a3a44"/>
<circle cx="119.8" cy="1823.2" r="0.75" fill="#2a3a44"/>
<circle cx="115.6" cy="1822.1" r="0.75" fill="#2a3a44"/>
<circle cx="111.5" cy="1820.5" r="0.75" fill="#2a3a44"/>
<circle cx="107.7" cy="1818.5" r="1.60" fill="#2a3a44"/>
<circle cx="104.0" cy="1816.2" r="0.75" fill="#2a3a44"/>
<circle cx="100.6" cy="1813.4" r="0.75" fill="#2a3a44"/>
<circle cx="97.6" cy="1810.4" r="0.75" fill="#2a3a44"/>
<circle cx="94.8" cy="1807.0" r="0.75" fill="#2a3a44"/>
<circle cx="92.5" cy="1803.3" r="1.60" fill="#2a3a44"/>
<circle cx="90.5" cy="1799.5" r="0.75" fill="#2a3a44"/>
<circle cx="88.9" cy="1795.4" r="0.75" fill="#2a3a44"/>
<circle cx="87.8" cy="1791.2" r="0.75" fill="#2a3a44"/>
<circle cx="87.1" cy="1786.9" r="0.75" fill="#2a3a44"/>
<circle cx="86.9" cy="1782.6" r="1.60" fill="#2a3a44"/>
<circle cx="87.1" cy="1778.3" r="0.75" fill="#2a3a44"/>
<circle cx="87.8" cy="1774.0" r="0.75" fill="#2a3a44"/>
<circle cx="88.9" cy="1769.8" r="0.75" fill="#2a3a44"/>
<circle cx="90.5" cy="1765.7" r="0.75" fill="#2a3a44"/>
<circle cx="92.5" cy="1761.8" r="1.60" fill="#2a3a44"/>
<circle cx="94.8" cy="1758.2" r="0.75" fill="#2a3a44"/>
<circle cx="97.6" cy="1754.8" r="0.75" fill="#2a3a44"/>
<circle cx="100.6" cy="1751.8" r="0.75" fill="#2a3a44"/>
<circle cx="104.0" cy="1749.0" r="0.75" fill="#2a3a44"/>
<circle cx="107.6" cy="1746.7" r="1.60" fill="#2a3a44"/>
<circle cx="111.5" cy="1744.7" r="0.75" fill="#2a3a44"/>
<circle cx="115.6" cy="1743.1" r="0.75" fill="#2a3a44"/>
<circle cx="119.8" cy="1742.0" r="0.75" fill="#2a3a44"/>
<circle cx="124.1" cy="1741.3" r="0.75" fill="#2a3a44"/>
<text class="c b" x="128.4" y="1754.3" style="font-size:13.0px;fill:#222;font-family:'DejaVu Sans Condensed',sans-serif">12</text>
<text class="c b" x="161.4" y="1787.3" style="font-size:13.0px;fill:#222;font-family:'DejaVu Sans Condensed',sans-serif">3</text>
<text class="c b" x="128.4" y="1820.3" style="font-size:13.0px;fill:#222;font-family:'DejaVu Sans Condensed',sans-serif">6</text>
<text class="c b" x="95.4" y="1787.3" style="font-size:13.0px;fill:#222;font-family:'DejaVu Sans Condensed',sans-serif">9</text>
<line x1="128.4" y1="1782.6" x2="105.4" y2="1769.0" stroke="#1f3543" stroke-width="4.2" stroke-linecap="round"/>
<line x1="128.4" y1="1782.6" x2="156.4" y2="1754.6" stroke="#1f3543" stroke-width="3.2" stroke-linecap="round"/>
<circle cx="128.4" cy="1782.6" r="3.2" fill="#1f3543"/>
<rect x="257" y="1749.5" width="87" height="63.5" fill="url(#gEnv)"/>
<path d="M257,1749.5 L300.5,1773 L344,1749.5" fill="none" stroke="#d8d8d8" stroke-width="1"/>
<path d="M257,1813 L292,1783 M344,1813 L309,1783" fill="none" stroke="#e6e6e6" stroke-width="1"/>
<path d="M471.5,1822 C455,1806 426,1790 426,1768 C426,1754 436,1746.5 448,1746.5 C460,1746.5 467,1753 471.5,1760 C476,1753 483,1746.5 495,1746.5 C507,1746.5 517.3,1754 517.3,1768 C517.3,1790 488,1806 471.5,1822 Z" fill="url(#gHeart)"/>
<path d="M426,1784.3 H478 L486,1739 L494.7,1821 L500.3,1773 L506,1790 L509,1784.3 H517.3" fill="none" stroke="#a8141c" stroke-width="1.8" stroke-linejoin="round"/>
<g>
<rect x="622.3" y="1739" width="82.5" height="82" rx="5" fill="#3a3a3a"/>
<rect x="625.5" y="1741.5" width="76" height="16" rx="2" fill="#d42027"/>
<path d="M625.5,1757.5 H701.5 V1800 L690,1815 H625.5 Z" fill="url(#gPage)"/>
<path d="M690,1815 L701.5,1800 Q690,1800 684,1807 Z" fill="#d8d8d8"/>
<rect x="638.6" y="1733" width="3.8" height="15" rx="1.9" fill="#cfcfcf" stroke="#888" stroke-width="0.6"/>
<rect x="684.8" y="1733" width="3.8" height="15" rx="1.9" fill="#cfcfcf" stroke="#888" stroke-width="0.6"/>
<text class="c b" x="663" y="1791" style="font-size:38px;fill:#1a1a1a">5</text>
<text class="c b" x="657" y="1804" style="font-size:11px;fill:#1a1a1a">DAYS</text>
</g>
<text class="c" x="127.4" y="1858.0">Number of times people</text><text class="c" x="127.4" y="1873.5">switched windows each</text><text class="c" x="127.4" y="1889.0">hour:</text>
<text class="c" x="127.4" y="1920.8">Those with email:</text><text class="c" x="127.4" y="1936.3"><tspan class="b">37 times</tspan></text>
<text class="c" x="127.4" y="1967.4">Those without email:</text><text class="c" x="127.4" y="1982.9"><tspan class="b">18 times</tspan></text>
<text class="c" x="300" y="1858.0">People who read email</text><text class="c" x="300" y="1873.5">change screens twice</text><text class="c" x="300" y="1889.0">as often. They're in a</text><text class="c" x="300" y="1904.5">steady "high alert" state</text><text class="c" x="300" y="1920.0">with more constant</text><text class="c" x="300" y="1935.5">heart rates.</text>
<text class="c" x="474.7" y="1858.0">In the same study, some</text><text class="c" x="474.7" y="1873.5">participants were cut off</text><text class="c" x="474.7" y="1889.0">from email. They reported</text><text class="c" x="474.7" y="1904.5">that they felt more able to</text><text class="c" x="474.7" y="1920.0">do their jobs and stay on</text><text class="c" x="474.7" y="1935.5">task. They also had fewer</text><text class="c" x="474.7" y="1951.0">stressful and time-wasting</text><text class="c" x="474.7" y="1966.5">interruptions.</text>
<text class="c" x="664" y="1858.0">It took five days for</text><text class="c" x="664" y="1873.5">participants to have more</text><text class="c" x="664" y="1889.0">natural, variable heart</text><text class="c" x="664" y="1904.5">rates after being cut off</text><text class="c" x="664" y="1920.0">from email.</text>

<rect x="55" y="2019" width="688" height="366.5" rx="4" fill="#ececec"/>
<rect x="55" y="2062" width="677" height="310.5" fill="#c8e9f6"/>
<rect x="55" y="2060.5" width="688" height="1.6" fill="#fafafa"/>
<circle cx="66.3" cy="2027.4" r="4" fill="url(#gDot)" stroke="#8a8a8a" stroke-width="0.6"/>
<circle cx="80.5" cy="2027.4" r="4" fill="url(#gDot)" stroke="#8a8a8a" stroke-width="0.6"/>
<circle cx="94.4" cy="2027.4" r="4" fill="url(#gDot)" stroke="#8a8a8a" stroke-width="0.6"/>
<rect x="726" y="2023.5" width="12" height="6" rx="3" fill="none" stroke="#8a8a8a" stroke-width="1"/>
<path d="M421,2060.5 L424,2046 Q426,2037.5 435,2037.5 H584 Q592,2037.5 596,2046 Q600,2059 614,2060.5 Z" fill="#e2e2e2"/>
<path d="M250,2060.5 V2047 Q250,2037.5 260,2037.5 H412 Q419,2037.5 421,2045 L424,2060.5 Z" fill="#e2e2e2"/>
<path d="M72,2060.5 C80,2060.5 79,2037.5 90,2037.5 H229 C240,2037.5 239,2060.5 247,2060.5 Z" fill="#ffffff"/>
<path d="M230,2045.5 L238,2053.5 M238,2045.5 L230,2053.5" stroke="#8c8c8c" stroke-width="2.2"/>
<rect x="732" y="2062" width="11" height="310.5" fill="#f7f7f7"/>
<rect x="734" y="2066.5" width="7" height="62" rx="3.5" fill="#8e9aa3"/>
<path d="M734.8,2359 L737.5,2355 L740.2,2359 Z M734.8,2365.5 L737.5,2369.5 L740.2,2365.5 Z" fill="#333"/>
<path d="M734,2383 L741,2376 M737.5,2383 L741,2379.5" stroke="#999" stroke-width="0.8"/>
<text x="75" y="2095.5">A Mozilla FireFox Web Browser report revealed:</text>
<path d="M86,2184.5 H352 L361.5,2196.9 L352,2209.3 H86 Q80,2209.3 80,2203.3 V2190.5 Q80,2184.5 86,2184.5 Z" fill="#a5dbf3"/>
<rect x="284.7" y="2189.7" width="55.7" height="13.6" rx="3" fill="#3cb54a"/>
<text class="b" x="87.4" y="2202.0" style="font-size:12.5px">25%</text>
<text x="87.4" y="2219.7" style="font-size:12.5px">Users keep at least 3.59 tabs open</text>
<path d="M86,2226.6 H352 L361.5,2239.0 L352,2251.4 H86 Q80,2251.4 80,2245.4 V2232.6 Q80,2226.6 86,2226.6 Z" fill="#a5dbf3"/>
<rect x="229" y="2231.7999999999997" width="111.4" height="13.6" rx="3" fill="#f15a24"/>
<text class="b" x="87.4" y="2244.1" style="font-size:12.5px">50%</text>
<text x="87.4" y="2261.7999999999997" style="font-size:12.5px">Users have more than 2.38 tabs open</text>
<polygon points="379.7,2320.4 379.7,2192.3 441.3,2157.5 503.6,2141.9 564.6,2197.6 626.2,2207.3 686.9,2223.7 686.9,2320.4" fill="#29a8e2"/>
<line x1="441.3" x2="441.3" y1="2147" y2="2320.4" stroke="#1e93d4" stroke-width="1"/>
<line x1="503.6" x2="503.6" y1="2147" y2="2320.4" stroke="#1e93d4" stroke-width="1"/>
<line x1="564.6" x2="564.6" y1="2147" y2="2320.4" stroke="#1e93d4" stroke-width="1"/>
<line x1="626.2" x2="626.2" y1="2147" y2="2320.4" stroke="#1e93d4" stroke-width="1"/>
<line x1="686.9" x2="686.9" y1="2147" y2="2320.4" stroke="#1e93d4" stroke-width="1"/>
<line x1="441.3" x2="441.3" y1="2147" y2="2157.5" stroke="#8fcdec" stroke-width="1"/>
<line x1="503.6" x2="503.6" y1="2147" y2="2141.9" stroke="#8fcdec" stroke-width="1"/>
<line x1="564.6" x2="564.6" y1="2147" y2="2197.6" stroke="#8fcdec" stroke-width="1"/>
<line x1="626.2" x2="626.2" y1="2147" y2="2207.3" stroke="#8fcdec" stroke-width="1"/>
<line x1="686.9" x2="686.9" y1="2147" y2="2223.7" stroke="#8fcdec" stroke-width="1"/>
<line x1="379.7" x2="379.7" y1="2111" y2="2320.4" stroke="#8fcdec" stroke-width="1"/>
<text class="c" x="369" y="2119.0" style="font-size:12.5px">6</text>
<line x1="374" x2="379.7" y1="2111.6" y2="2111.6" stroke="#8fcdec" stroke-width="1"/>
<text class="c" x="369" y="2185.8" style="font-size:12.5px">4</text>
<line x1="374" x2="379.7" y1="2181.2" y2="2181.2" stroke="#8fcdec" stroke-width="1"/>
<text class="c" x="369" y="2255.4" style="font-size:12.5px">2</text>
<line x1="374" x2="379.7" y1="2250.8" y2="2250.8" stroke="#8fcdec" stroke-width="1"/>
<text x="392.8" y="2127.5" style="font-size:12.5px">Average number of tabs open</text>
<text class="c" x="381" y="2335.3">Under</text>
<text class="c" x="442.3" y="2335.3">18-26</text>
<text class="c" x="504.6" y="2335.3">26-35</text>
<text class="c" x="565.6" y="2335.3">36-45</text>
<text class="c" x="627.2" y="2335.3">46-55</text>
<text class="c" x="687.9" y="2335.3">56+</text>
<text class="c" x="381" y="2351.5">18</text>
<text class="c" x="533.8" y="2356">Age group</text>

<text class="c" x="400" y="2466.0">Multitasking takes a toll on our brains. Some neuroscientists believe that our brains weren't designed to handle the</text><text class="c" x="400" y="2482.0">amount of information they're currently processing.</text>
<g id="person">
<path d="M151,2491 C126,2492 108,2508 107,2530 C106,2550 114,2566 121,2582 L162,2582 L194,2524 C196,2505 176,2490 151,2491 Z" fill="#4b2e1c"/>
<path d="M126,2548 C128,2528 150,2518 175,2518 C187,2519 193,2526 194,2534 L196,2550 L200.5,2563 L195,2566 C195,2576 194,2586 192,2594 C186,2600 176,2601 166,2600 L167,2613 L121,2591 C126,2578 124,2562 126,2548 Z" fill="url(#gSkin)"/>
<ellipse cx="139" cy="2557" rx="6" ry="8" fill="#eeb08b"/>
<path d="M118,2589 C110,2600 98,2616 93,2638 L89,2656 L171,2656 L169,2612 C150,2609 131,2600 118,2589 Z" fill="#2b9ad8"/>
<path d="M113,2538 C110,2514 132,2497 158,2497 C180,2497 192,2510 190,2528 C188,2542 176,2550 158,2549 C148,2553 132,2553 121,2549 C116,2547 113,2543 113,2538 Z" fill="url(#gBrainH)"/>
<g stroke="#d9603a" stroke-width="0.9" fill="none" opacity="0.7"><path d="M122,2520 q8,-6 14,1 q6,6 13,-1 q7,-6 14,1"/><path d="M118,2535 q8,-6 14,1 q6,6 13,-1 q7,-6 14,1 q6,5 12,0"/><path d="M135,2505 q8,-5 14,1 q6,5 13,-1 q6,-4 12,2"/><path d="M140,2545 q8,-5 14,0 q6,4 12,-1"/></g>
<path d="M153,2547.5 L195,2549" stroke="#333" stroke-width="1.4"/>
<path d="M185,2546 q9,0 10,4 q-1,6 -8,6 q-4,-3 -2,-10 Z" fill="none" stroke="#999" stroke-width="1"/>
<path d="M166,2540 q8,-3 14,0" stroke="#4b2e1c" stroke-width="2" fill="none"/>
</g>
<text x="240.4" y="2543.5">Our brains' attention levels are finite. When our brain is overloaded with information, it</text>
<text x="240.4" y="2559.2">can trigger a "fight or flight" reaction.</text>
<text x="240.4" y="2591">This overload makes the brain feel threatened, so it shuts down higher brain regions</text>
<text x="240.4" y="2606.5">that deal with empathy.</text>
<text x="58.2" y="2680">Some believe that all of these technologies and distractions may rewire our brains, which can impact how we think</text>
<text x="58.2" y="2696">and behave.</text>
<rect x="56.5" y="2704" width="225.5" height="229.5" fill="#72c5ec"/>
<rect x="287" y="2704" width="225.5" height="229.5" fill="#29a7e1"/>
<rect x="515.7" y="2704" width="229.7" height="229.5" fill="#72c5ec"/>
<g>
<path d="M175,2722.5 C160,2721 142,2732 137,2752 C133,2768 134,2790 140,2803 C146,2815 162,2820 175,2816 Z" fill="url(#gBrainT)" stroke="#e8764f" stroke-width="0.8"/>
<path d="M176.5,2722.5 C191,2721 209,2732 213,2752 C217,2768 216,2790 210,2803 C204,2815 189,2820 176.5,2816 Z" fill="url(#gBrainT)" stroke="#e8764f" stroke-width="0.8"/>
<g stroke="#e0704a" stroke-width="0.9" fill="none" opacity="0.75" stroke-linecap="round"><path d="M161.5,2729.5 q3.2,1.2 6.5,0.6"/><path d="M152.3,2735.8 q2.5,4.0 5.1,2.0 q3.0,-3.2 6.0,-1.6 q4.5,-0.4 9.0,-0.2"/><path d="M150.7,2741.7 q3.8,-4.2 7.6,-2.1 q3.8,4.4 7.5,2.2 q3.5,2.9 7.1,1.4"/><path d="M145.7,2746.8 q4.0,1.1 8.0,0.5 q3.1,-5.6 6.2,-2.8 q4.2,-0.3 8.5,-0.2"/><path d="M148.5,2752.4 q3.9,5.1 7.9,2.5 q3.3,3.6 6.6,1.8 q3.4,5.2 6.8,2.6"/><path d="M142.4,2758.3 q2.8,-3.4 5.5,-1.7 q4.4,-0.8 8.9,-0.4 q3.8,-2.4 7.5,-1.2 q3.5,-1.4 7.0,-0.7"/><path d="M144.7,2762.7 q3.7,4.9 7.3,2.4 q3.9,5.1 7.7,2.6 q4.2,5.9 8.4,2.9"/><path d="M141.8,2768.8 q4.2,5.6 8.4,2.8 q4.3,0.8 8.6,0.4 q3.9,-3.5 7.9,-1.7 q4.2,0.9 8.3,0.4"/><path d="M141.4,2773.6 q4.2,5.9 8.4,2.9 q2.7,3.6 5.4,1.8 q3.3,-4.2 6.6,-2.1 q3.1,3.2 6.2,1.6"/><path d="M142.2,2780.2 q3.7,-5.5 7.5,-2.7 q3.9,-2.0 7.9,-1.0 q4.3,5.8 8.5,2.9 q3.5,6.0 7.0,3.0"/><path d="M143.4,2784.6 q3.7,-5.6 7.4,-2.8 q2.9,-1.1 5.8,-0.6 q3.7,-4.1 7.4,-2.1 q2.6,4.4 5.2,2.2"/><path d="M150.6,2790.1 q4.3,-1.5 8.6,-0.7 q3.4,0.2 6.8,0.1 q3.8,1.1 7.6,0.6"/><path d="M151.5,2796.1 q4.4,0.1 8.8,0.0 q3.4,2.6 6.7,1.3"/><path d="M152.8,2801.0 q4.5,0.3 8.9,0.1 q3.6,-5.9 7.2,-2.9"/><path d="M159.7,2806.8 q2.5,1.4 5.1,0.7 q3.8,-5.3 7.5,-2.6"/><path d="M167.7,2812.8"/><path d="M180.9,2730.4 q3.9,2.9 7.8,1.4"/><path d="M179.2,2734.5 q3.9,5.6 7.7,2.8 q3.0,-0.5 6.0,-0.3"/><path d="M180.7,2741.2 q3.2,-2.2 6.5,-1.1 q3.2,1.1 6.5,0.6 q3.1,-1.5 6.2,-0.7"/><path d="M179.0,2747.0 q3.6,2.8 7.3,1.4 q3.1,-3.3 6.2,-1.7 q4.1,-3.1 8.2,-1.6"/><path d="M181.4,2751.4 q3.9,-4.8 7.8,-2.4 q3.1,-2.0 6.3,-1.0 q4.2,-0.7 8.3,-0.4"/><path d="M179.8,2758.2 q3.2,1.8 6.3,0.9 q4.3,-0.6 8.5,-0.3 q3.0,-4.5 5.9,-2.3 q3.6,-3.7 7.1,-1.9"/><path d="M183.8,2763.6 q2.9,-2.7 5.7,-1.3 q4.1,1.7 8.2,0.9 q4.1,-1.9 8.2,-0.9"/><path d="M180.6,2767.8 q4.1,-2.7 8.2,-1.4 q3.2,-1.0 6.4,-0.5 q3.3,-1.1 6.7,-0.5 q4.3,-4.1 8.7,-2.1"/><path d="M184.5,2773.0 q4.3,5.8 8.5,2.9 q3.4,5.4 6.7,2.7 q4.4,-3.3 8.7,-1.7"/><path d="M183.8,2780.0 q3.8,0.2 7.7,0.1 q3.1,-1.9 6.2,-1.0 q3.0,-5.2 5.9,-2.6 q3.7,-2.6 7.4,-1.3"/><path d="M179.1,2785.6 q4.3,2.3 8.6,1.2 q4.3,4.8 8.7,2.4 q4.3,0.9 8.6,0.5"/><path d="M183.3,2789.5 q2.8,-2.4 5.7,-1.2 q3.8,0.3 7.7,0.1 q3.3,5.3 6.7,2.6"/><path d="M180.8,2796.2 q3.0,4.3 6.0,2.2 q3.5,3.4 6.9,1.7 q3.2,-3.6 6.4,-1.8"/><path d="M183.7,2801.6 q2.8,3.5 5.7,1.8 q4.3,3.7 8.7,1.8"/><path d="M178.8,2807.6 q3.8,4.4 7.5,2.2 q2.6,-2.7 5.2,-1.4"/><path d="M182.0,2812.0 q3.3,-0.3 6.7,-0.2"/></g>
<path d="M203,2810.5 H219 V2806 L229.3,2812.7 L219,2819.5 V2815 H203 Z" fill="#fff"/>
<path d="M218.4,2823.6 H202 V2819 L192,2825.8 L202,2832.5 V2828 H218.4 Z" fill="#fff"/>
</g>
<circle cx="404.5" cy="2778.4" r="52" fill="url(#gNeuro)"/>
<clipPath id="cp2"><circle cx="404.5" cy="2778.4" r="51.5"/></clipPath>
<g clip-path="url(#cp2)" fill="none">
<path d="M383.4,2736.5 Q407.4,2767.7 422.6,2727.1" stroke="#f0287a" stroke-width="0.9" opacity="0.45"/>
<path d="M354.8,2768.6 Q369.2,2783.6 373.4,2784.5" stroke="#f0287a" stroke-width="2.3" opacity="0.49"/>
<path d="M413.8,2766.0 Q433.2,2761.6 461.7,2724.0" stroke="#e81a6c" stroke-width="1.0" opacity="0.34"/>
<path d="M411.7,2800.2 Q379.5,2746.2 356.9,2786.9" stroke="#ff2a86" stroke-width="1.9" opacity="0.47"/>
<path d="M404.1,2782.2 Q438.4,2767.3 437.8,2774.3" stroke="#ff2a86" stroke-width="1.2" opacity="0.35"/>
<path d="M354.3,2754.4 Q400.4,2787.1 403.9,2759.6" stroke="#ff2a86" stroke-width="0.9" opacity="0.45"/>
<path d="M435.4,2736.6 Q418.0,2799.6 403.2,2723.1" stroke="#e81a6c" stroke-width="1.7" opacity="0.56"/>
<path d="M385.3,2760.4 Q370.0,2745.9 404.1,2814.0" stroke="#f0287a" stroke-width="1.2" opacity="0.51"/>
<path d="M351.8,2802.6 Q430.3,2761.2 422.2,2837.6" stroke="#f0287a" stroke-width="1.4" opacity="0.50"/>
<path d="M457.4,2761.1 Q382.0,2761.4 417.8,2777.6" stroke="#ff4a9a" stroke-width="2.0" opacity="0.42"/>
<path d="M354.2,2772.3 Q430.0,2807.5 410.4,2824.4" stroke="#e81a6c" stroke-width="1.2" opacity="0.42"/>
<path d="M426.4,2764.1 Q376.6,2791.1 372.2,2728.4" stroke="#ff2a86" stroke-width="0.8" opacity="0.55"/>
<path d="M376.0,2718.9 Q409.8,2814.6 394.8,2762.7" stroke="#f0287a" stroke-width="1.9" opacity="0.45"/>
<path d="M399.3,2822.9 Q409.2,2770.2 458.7,2800.1" stroke="#ff4a9a" stroke-width="1.4" opacity="0.44"/>
<path d="M352.0,2726.5 Q391.7,2742.6 369.6,2737.9" stroke="#f0287a" stroke-width="0.8" opacity="0.35"/>
<path d="M458.4,2792.0 Q394.6,2789.2 352.9,2743.4" stroke="#ff4a9a" stroke-width="2.3" opacity="0.48"/>
<path d="M359.2,2820.3 Q403.2,2745.3 463.7,2774.3" stroke="#e81a6c" stroke-width="1.0" opacity="0.40"/>
<path d="M401.9,2801.4 Q440.7,2767.3 406.5,2743.0" stroke="#e81a6c" stroke-width="1.9" opacity="0.57"/>
<path d="M461.9,2822.0 Q393.8,2751.8 428.0,2749.7" stroke="#e81a6c" stroke-width="2.0" opacity="0.46"/>
<path d="M420.9,2792.0 Q380.1,2757.6 439.1,2809.4" stroke="#ff2a86" stroke-width="1.4" opacity="0.54"/>
<path d="M406.6,2761.1 Q386.9,2759.1 348.0,2721.8" stroke="#ff4a9a" stroke-width="1.9" opacity="0.59"/>
<path d="M441.5,2805.2 Q370.9,2746.6 386.4,2835.3" stroke="#ff4a9a" stroke-width="1.6" opacity="0.40"/>
<path d="M419.4,2826.4 Q416.7,2802.4 445.4,2775.9" stroke="#ff4a9a" stroke-width="0.9" opacity="0.50"/>
<path d="M438.4,2808.4 Q427.6,2765.0 401.9,2739.8" stroke="#ff4a9a" stroke-width="2.1" opacity="0.59"/>
<path d="M400.1,2807.6 Q443.9,2740.6 354.7,2737.5" stroke="#ff2a86" stroke-width="1.7" opacity="0.44"/>
<path d="M417.9,2789.9 Q377.0,2782.3 401.4,2830.9" stroke="#f0287a" stroke-width="0.8" opacity="0.54"/>
<path d="M407.7,2830.4 Q430.6,2755.3 396.6,2823.0" stroke="#ff2a86" stroke-width="1.2" opacity="0.39"/>
<path d="M436.1,2757.5 Q369.4,2797.6 409.8,2818.5" stroke="#ff4a9a" stroke-width="2.2" opacity="0.50"/>
<path d="M443.8,2823.8 Q405.3,2808.2 360.2,2736.6" stroke="#ff2a86" stroke-width="2.0" opacity="0.48"/>
<path d="M365.2,2775.2 Q390.6,2779.9 431.5,2785.2" stroke="#f0287a" stroke-width="1.7" opacity="0.54"/>
<path d="M450.5,2725.2 Q372.3,2774.6 367.5,2723.5" stroke="#f0287a" stroke-width="0.8" opacity="0.57"/>
<path d="M397.7,2791.9 Q419.9,2774.6 405.2,2779.9" stroke="#ff2a86" stroke-width="1.7" opacity="0.44"/>
<path d="M428.4,2823.6 Q409.3,2813.9 457.6,2749.6" stroke="#f0287a" stroke-width="2.1" opacity="0.34"/>
<path d="M391.6,2756.3 Q381.5,2762.6 425.0,2769.8" stroke="#e81a6c" stroke-width="1.0" opacity="0.53"/>
<path d="M361.7,2824.3 Q440.7,2770.3 460.6,2744.8" stroke="#ff2a86" stroke-width="1.6" opacity="0.60"/>
<path d="M363.9,2770.2 Q380.2,2763.9 406.4,2759.1" stroke="#ff4a9a" stroke-width="2.0" opacity="0.31"/>
<path d="M397.4,2720.6 Q405.5,2743.5 384.3,2793.3" stroke="#f0287a" stroke-width="2.4" opacity="0.54"/>
<path d="M354.6,2751.0 Q425.0,2804.0 453.2,2740.2" stroke="#e81a6c" stroke-width="2.2" opacity="0.50"/>
</g>
<circle cx="390" cy="2757" r="14" fill="url(#gGlow)"/>
<circle cx="402" cy="2746" r="8" fill="url(#gGlow)"/>
<circle cx="425" cy="2766" r="9" fill="url(#gGlow)"/>
<circle cx="385" cy="2784" r="8" fill="url(#gGlow)"/>
<circle cx="440" cy="2768" r="7" fill="url(#gGlow)"/>
<circle cx="370" cy="2755" r="5" fill="url(#gGlow)"/>
<circle cx="417" cy="2738" r="6" fill="url(#gGlow)"/>
<circle cx="432" cy="2756" r="5" fill="url(#gGlow)"/>
<circle cx="360" cy="2772" r="6" fill="url(#gGlow)"/>
<circle cx="402" cy="2788" r="5" fill="url(#gGlow)"/>
<circle cx="375" cy="2806" r="4" fill="url(#gGlow)"/>
<g>
<circle cx="619.5" cy="2778.6" r="53" fill="url(#gSyn)"/>
<clipPath id="cp3"><circle cx="619.5" cy="2778.6" r="52.5"/></clipPath>
<g clip-path="url(#cp3)">
<path d="M637,2720 L644,2720 C643,2730 643,2736 646,2742 C650,2748 653,2752 652,2757 C645,2763 620,2763 609,2756 C612,2748 625,2744 632,2738 C636,2733 637,2727 637,2720 Z" fill="url(#gNeuron)"/>
<path d="M601.5,2772 C612,2767 634,2767 644,2773 C645,2785 636,2794 627,2800 C623,2810 617,2822 614,2834 L605,2834 C608,2822 613,2810 616,2798 C607,2792 601,2782 601.5,2772 Z" fill="url(#gNeuron)"/>
<path d="M610,2757 C620,2764 640,2765 651,2757" stroke="#fff" stroke-width="2.5" fill="none" opacity="0.85"/>
<path d="M602,2772 C612,2767 634,2767 644,2773" stroke="#fff" stroke-width="2.5" fill="none" opacity="0.85"/>
<ellipse cx="625" cy="2765" rx="20" ry="6" fill="url(#gGlow)" opacity="0.6"/>
<circle cx="626" cy="2766" r="1.4" fill="#fff"/><circle cx="633" cy="2765" r="1.2" fill="#fff"/><circle cx="619" cy="2768" r="1.2" fill="#fff"/><circle cx="639" cy="2775" r="1.2" fill="#fff"/>
</g>
</g>
<text class="c" x="176" y="2861.0">Instead of focusing on a task, the</text><text class="c" x="176" y="2876.5">brain now wants to always switch</text><text class="c" x="176" y="2892.0">to the next thing due to the con-</text><text class="c" x="176" y="2907.5">stant flow of new information it</text><text class="c" x="176" y="2923.0">receives through multitasking.</text>
<text class="c" x="395.5" y="2862.3">It's likely a result of the brain's</text><text class="c" x="395.5" y="2877.8">desire to react to immediate</text><text class="c" x="395.5" y="2893.3">opportunities and threats.</text>
<text class="c" x="625" y="2862.3">Consequently, every time you switch</text><text class="c" x="625" y="2877.8">to the next task, your brain releases</text><text class="c" x="625" y="2893.3">a squirt of dopamine.</text>
<g>
<rect x="134.8" y="2987.4" width="148" height="119" rx="5" fill="#f2f2f2" stroke="#d0d0d0" stroke-width="0.8"/>
<rect x="143.5" y="2995.6" width="130.5" height="102.7" fill="url(#gLapScreen)"/>
<circle cx="208.8" cy="2991.5" r="1" fill="#333"/>
<path d="M119,3106.5 H305 V3114 Q305,3118.5 300,3118.5 H124 Q119,3118.5 119,3114 Z" fill="#efefef" stroke="#d0d0d0" stroke-width="0.6"/>
<rect x="192" y="3106.5" width="34" height="3" fill="#dcdcdc"/>
</g>
<g>
<g fill="url(#gCloud2)"><circle cx="342" cy="2979" r="34"/><circle cx="320" cy="3008" r="27"/><circle cx="372" cy="3005" r="27"/><circle cx="346" cy="3005" r="26"/></g>
<path d="M352.5,2967.6 Q348.5,2969.1 347.7,2973.2 Q346.9,2977.3 343.7,2974.7 Q340.4,2972.0 336.4,2973.4 Q332.5,2974.8 333.1,2970.6 Q333.7,2966.5 330.6,2963.7 Q327.4,2960.9 331.3,2959.4 Q335.3,2957.9 336.1,2953.8 Q336.9,2949.7 340.1,2952.3 Q343.4,2955.0 347.4,2953.6 Q351.3,2952.2 350.7,2956.4 Q350.1,2960.5 353.2,2963.3 Q356.4,2966.1 352.5,2967.6 Z" fill="#8c8c8c" stroke="#7a7a7a" stroke-width="0.6"/>
<path d="M322.4,2991.7 Q319.7,2991.7 318.3,2994.0 Q316.9,2996.3 315.5,2994.0 Q314.1,2991.7 311.4,2991.7 Q308.7,2991.6 310.0,2989.3 Q311.3,2986.9 310.0,2984.5 Q308.7,2982.2 311.4,2982.1 Q314.1,2982.1 315.5,2979.8 Q316.9,2977.5 318.3,2979.8 Q319.7,2982.1 322.4,2982.1 Q325.1,2982.2 323.8,2984.5 Q322.5,2986.9 323.8,2989.3 Q325.1,2991.6 322.4,2991.7 Z" fill="#8c8c8c" stroke="#7a7a7a" stroke-width="0.6"/>
<path d="M360.4,2999.0 Q358.1,3000.4 358.1,3003.1 Q358.0,3005.8 355.7,3004.5 Q353.3,3003.2 350.9,3004.5 Q348.6,3005.8 348.5,3003.1 Q348.5,3000.4 346.2,2999.0 Q343.9,2997.6 346.2,2996.2 Q348.5,2994.8 348.5,2992.1 Q348.6,2989.4 350.9,2990.7 Q353.3,2992.0 355.7,2990.7 Q358.0,2989.4 358.1,2992.1 Q358.1,2994.8 360.4,2996.2 Q362.8,2997.6 360.4,2999.0 Z" fill="#8c8c8c" stroke="#7a7a7a" stroke-width="0.6"/>
<path d="M394.5,3002.9 Q392.5,3003.3 391.7,3005.3 Q391.0,3007.2 389.6,3005.7 Q388.2,3004.1 386.1,3004.4 Q384.1,3004.7 384.7,3002.7 Q385.4,3000.8 384.1,2999.1 Q382.8,2997.5 384.9,2997.1 Q386.9,2996.7 387.7,2994.7 Q388.4,2992.8 389.8,2994.3 Q391.2,2995.9 393.3,2995.6 Q395.3,2995.3 394.7,2997.3 Q394.0,2999.2 395.3,3000.9 Q396.6,3002.5 394.5,3002.9 Z" fill="#8c8c8c" stroke="#7a7a7a" stroke-width="0.6"/>
<path d="M377.4,2982.3 Q375.5,2982.8 375.0,2984.7 Q374.5,2986.6 373.1,2985.2 Q371.7,2983.9 369.8,2984.4 Q367.9,2984.8 368.3,2982.9 Q368.8,2981.0 367.5,2979.6 Q366.1,2978.2 368.0,2977.7 Q369.9,2977.2 370.4,2975.3 Q370.9,2973.4 372.3,2974.8 Q373.7,2976.1 375.6,2975.6 Q377.5,2975.2 377.1,2977.1 Q376.6,2979.0 377.9,2980.4 Q379.3,2981.8 377.4,2982.3 Z" fill="#8c8c8c" stroke="#7a7a7a" stroke-width="0.6"/>
<path d="M334.9,3024.4 Q331.4,3026.1 331.0,3030.0 Q330.6,3033.9 327.3,3031.7 Q324.1,3029.5 320.5,3031.1 Q317.0,3032.7 317.2,3028.8 Q317.5,3024.9 314.3,3022.6 Q311.2,3020.3 314.7,3018.6 Q318.2,3016.9 318.6,3013.0 Q319.0,3009.1 322.3,3011.3 Q325.5,3013.5 329.1,3011.9 Q332.6,3010.3 332.4,3014.2 Q332.1,3018.1 335.3,3020.4 Q338.4,3022.7 334.9,3024.4 Z" fill="#8c8c8c" stroke="#7a7a7a" stroke-width="0.6"/>
<path d="M368.7,2969.1 Q367.9,2969.6 368.2,2970.5 Q368.5,2971.4 367.6,2971.1 Q366.7,2970.8 366.2,2971.6 Q365.8,2972.5 365.4,2971.6 Q364.9,2970.8 364.0,2971.1 Q363.1,2971.4 363.4,2970.5 Q363.7,2969.6 362.9,2969.1 Q362.0,2968.7 362.9,2968.3 Q363.7,2967.8 363.4,2966.9 Q363.1,2966.0 364.0,2966.3 Q364.9,2966.6 365.4,2965.8 Q365.8,2964.9 366.2,2965.8 Q366.7,2966.6 367.6,2966.3 Q368.5,2966.0 368.2,2966.9 Q367.9,2967.8 368.7,2968.3 Q369.6,2968.7 368.7,2969.1 Z" fill="#8c8c8c"/>
<path d="M312.9,3004.8 Q312.1,3005.3 312.4,3006.2 Q312.7,3007.1 311.8,3006.8 Q310.9,3006.5 310.4,3007.3 Q310.0,3008.2 309.6,3007.3 Q309.1,3006.5 308.2,3006.8 Q307.3,3007.1 307.6,3006.2 Q307.9,3005.3 307.1,3004.8 Q306.2,3004.4 307.1,3004.0 Q307.9,3003.5 307.6,3002.6 Q307.3,3001.7 308.2,3002.0 Q309.1,3002.3 309.6,3001.5 Q310.0,3000.6 310.4,3001.5 Q310.9,3002.3 311.8,3002.0 Q312.7,3001.7 312.4,3002.6 Q312.1,3003.5 312.9,3004.0 Q313.8,3004.4 312.9,3004.8 Z" fill="#8c8c8c"/>
<path d="M367.6,3021.9 Q366.8,3022.4 367.1,3023.3 Q367.4,3024.2 366.5,3023.9 Q365.6,3023.6 365.1,3024.4 Q364.7,3025.3 364.3,3024.4 Q363.8,3023.6 362.9,3023.9 Q362.0,3024.2 362.3,3023.3 Q362.6,3022.4 361.8,3021.9 Q360.9,3021.5 361.8,3021.1 Q362.6,3020.6 362.3,3019.7 Q362.0,3018.8 362.9,3019.1 Q363.8,3019.4 364.3,3018.6 Q364.7,3017.7 365.1,3018.6 Q365.6,3019.4 366.5,3019.1 Q367.4,3018.8 367.1,3019.7 Q366.8,3020.6 367.6,3021.1 Q368.5,3021.5 367.6,3021.9 Z" fill="#8c8c8c"/>
<circle cx="347.6" cy="3047.7" r="5.7" fill="#f2f2f2"/><circle cx="335.5" cy="3056.8" r="3.9" fill="#f2f2f2"/>
</g>
<text x="418.2" y="3025.6">Studies have also proven that excessive Internet use</text><text x="418.2" y="3041">may lead to the atrophy of grey matter.</text>
<text x="418.2" y="3076.6">This could impact concentration, memory, ability to</text><text x="418.2" y="3092">make decisions and set goals.</text>

<text class="c" x="400.5" y="3205.8">While it may be difficult to change a multitasking habit -- not to mention how our brains are wired, there are some</text><text class="c" x="400.5" y="3221.1">things you can do to cut back on the amount of digital stress in your life.</text>
<circle cx="158" cy="3307.5" r="54" fill="#8cc63f"/>
<path d="M126,3312.6 L149.3,3334.6 L193,3289.3" fill="none" stroke="#fff" stroke-width="13"/>
<g transform="translate(438,3306) rotate(12)"><path d="M-28.0,-50.0 H16.0 L31.0,-35.0 V47.0 Q31.0,50.0 28.0,50.0 H-28.0 Q-31.0,50.0 -31.0,47.0 V-47.0 Q-31.0,-50.0 -28.0,-50.0 Z" fill="url(#gSheet)" stroke="#d0d0d0" stroke-width="0.6"/><path d="M16.0,-50.0 L18.0,-37.0 L31.0,-35.0 Z" fill="#dcdcdc"/><line x1="-21.0" x2="21.0" y1="-35.0" y2="-35.0" stroke="#a6a6a6" stroke-width="1.2"/><line x1="-21.0" x2="21.0" y1="-23.5" y2="-23.5" stroke="#a6a6a6" stroke-width="1.2"/><line x1="-21.0" x2="21.0" y1="-12.0" y2="-12.0" stroke="#a6a6a6" stroke-width="1.2"/><line x1="-21.0" x2="21.0" y1="-0.5" y2="-0.5" stroke="#a6a6a6" stroke-width="1.2"/><line x1="-21.0" x2="21.0" y1="11.0" y2="11.0" stroke="#a6a6a6" stroke-width="1.2"/><line x1="-21.0" x2="21.0" y1="22.5" y2="22.5" stroke="#a6a6a6" stroke-width="1.2"/><line x1="-21.0" x2="21.0" y1="34.0" y2="34.0" stroke="#a6a6a6" stroke-width="1.2"/></g>
<g transform="translate(395,3300) rotate(4)"><path d="M-34.0,-48.5 H22.0 L37.0,-33.5 V45.5 Q37.0,48.5 34.0,48.5 H-34.0 Q-37.0,48.5 -37.0,45.5 V-45.5 Q-37.0,-48.5 -34.0,-48.5 Z" fill="url(#gSheet)" stroke="#d0d0d0" stroke-width="0.6"/><path d="M22.0,-48.5 L24.0,-35.5 L37.0,-33.5 Z" fill="#dcdcdc"/><line x1="-27.0" x2="27.0" y1="-33.5" y2="-33.5" stroke="#a6a6a6" stroke-width="1.2"/><line x1="-27.0" x2="27.0" y1="-22.0" y2="-22.0" stroke="#a6a6a6" stroke-width="1.2"/><line x1="-27.0" x2="27.0" y1="-10.5" y2="-10.5" stroke="#a6a6a6" stroke-width="1.2"/><line x1="-27.0" x2="27.0" y1="1.0" y2="1.0" stroke="#a6a6a6" stroke-width="1.2"/><line x1="-27.0" x2="27.0" y1="12.5" y2="12.5" stroke="#a6a6a6" stroke-width="1.2"/><line x1="-27.0" x2="27.0" y1="24.0" y2="24.0" stroke="#a6a6a6" stroke-width="1.2"/><line x1="-27.0" x2="27.0" y1="35.5" y2="35.5" stroke="#a6a6a6" stroke-width="1.2"/></g>
<g transform="translate(373,3313) rotate(-6)"><path d="M-37.0,-46.5 H25.0 L40.0,-31.5 V43.5 Q40.0,46.5 37.0,46.5 H-37.0 Q-40.0,46.5 -40.0,43.5 V-43.5 Q-40.0,-46.5 -37.0,-46.5 Z" fill="url(#gSheet)" stroke="#d0d0d0" stroke-width="0.6"/><path d="M25.0,-46.5 L27.0,-33.5 L40.0,-31.5 Z" fill="#dcdcdc"/><line x1="-30.0" x2="30.0" y1="-31.5" y2="-31.5" stroke="#a6a6a6" stroke-width="1.2"/><line x1="-30.0" x2="30.0" y1="-20.0" y2="-20.0" stroke="#a6a6a6" stroke-width="1.2"/><line x1="-30.0" x2="30.0" y1="-8.5" y2="-8.5" stroke="#a6a6a6" stroke-width="1.2"/><line x1="-30.0" x2="30.0" y1="3.0" y2="3.0" stroke="#a6a6a6" stroke-width="1.2"/><line x1="-30.0" x2="30.0" y1="14.5" y2="14.5" stroke="#a6a6a6" stroke-width="1.2"/><line x1="-30.0" x2="30.0" y1="26.0" y2="26.0" stroke="#a6a6a6" stroke-width="1.2"/><line x1="-30.0" x2="30.0" y1="37.5" y2="37.5" stroke="#a6a6a6" stroke-width="1.2"/></g>
<g>
<path d="M614.6,3276 H671 L665.6,3359.5 Q665,3361 663,3361 H622.5 Q620.5,3361 620,3359.5 Z" fill="url(#gCup)"/>
<path d="M616.2,3296.5 H669.5 L667.3,3329.3 H618.3 Z" fill="#a0836d"/>
<path d="M617,3258 Q617,3254.5 621,3254.5 H664 Q668,3254.5 668,3258 L670,3264 H615 Z" fill="#ebebeb"/>
<rect x="611" y="3264" width="63" height="12.4" rx="5" fill="#e6e6e6"/>
<rect x="611" y="3264" width="63" height="5" rx="2.5" fill="#f4f4f4"/>
</g>
<text class="c" x="158" y="3382.3">Intentionally Focus</text><text class="c" x="158" y="3398.6">on Tasks</text>
<text class="c" x="398.4" y="3383.0">Complete Similar</text><text class="c" x="398.4" y="3398.5">Tasks Together</text>
<text class="c" x="642" y="3382.8">Take a Break</text>
<path d="M160.8,3405 V3435 Q160.8,3453 142.8,3453 H114.8 Q96.8,3453 96.8,3471 V3492.4 M160.8,3435 Q160.8,3453 178.8,3453 H201 Q219,3453 219,3471 V3492.4" fill="none" stroke="#fff" stroke-width="6.5"/>
<path d="M400,3405 V3433 Q400,3451 382,3451 H355 Q337,3451 337,3469 V3493 M400,3433 Q400,3451 418,3451 H443 Q461,3451 461,3469 V3493" fill="none" stroke="#fff" stroke-width="6.5"/>
<path d="M640.8,3405 V3434 Q640.8,3452 622.8,3452 H597 Q579,3452 579,3470 V3492 M640.8,3434 Q640.8,3452 658.8,3452 H686.7 Q704.7,3452 704.7,3470 V3492" fill="none" stroke="#fff" stroke-width="6.5"/>
<rect x="59" y="3504" width="86" height="63.5" fill="url(#gEnv)"/><path d="M59,3504 L102.0,3530.67 L145,3504" fill="none" stroke="#d6d6d6" stroke-width="1"/><path d="M59,3567.5 L93.4,3532.575 M145,3567.5 L110.6,3532.575" fill="none" stroke="#e4e4e4" stroke-width="1"/>
<circle cx="141.1" cy="3561.1" r="19.7" fill="#f2f4f5"/>
<circle cx="141.1" cy="3561.1" r="17.2" fill="url(#gClockRing)"/>
<circle cx="141.1" cy="3561.1" r="15.9" fill="url(#gClockFace)"/>
<path d="M141.1,3561.1 L141.1,3545.2 A15.9,15.9 0 0 1 151.3,3549.0 Z" fill="#1f9be0"/>
<circle cx="141.1" cy="3546.7" r="0.56" fill="#2a3a44"/>
<circle cx="142.6" cy="3546.8" r="0.26" fill="#2a3a44"/>
<circle cx="144.1" cy="3547.0" r="0.26" fill="#2a3a44"/>
<circle cx="145.5" cy="3547.4" r="0.26" fill="#2a3a44"/>
<circle cx="147.0" cy="3547.9" r="0.26" fill="#2a3a44"/>
<circle cx="148.3" cy="3548.6" r="0.56" fill="#2a3a44"/>
<circle cx="149.6" cy="3549.4" r="0.26" fill="#2a3a44"/>
<circle cx="150.7" cy="3550.4" r="0.26" fill="#2a3a44"/>
<circle cx="151.8" cy="3551.5" r="0.26" fill="#2a3a44"/>
<circle cx="152.8" cy="3552.6" r="0.26" fill="#2a3a44"/>
<circle cx="153.6" cy="3553.9" r="0.56" fill="#2a3a44"/>
<circle cx="154.3" cy="3555.2" r="0.26" fill="#2a3a44"/>
<circle cx="154.8" cy="3556.7" r="0.26" fill="#2a3a44"/>
<circle cx="155.2" cy="3558.1" r="0.26" fill="#2a3a44"/>
<circle cx="155.4" cy="3559.6" r="0.26" fill="#2a3a44"/>
<circle cx="155.5" cy="3561.1" r="0.56" fill="#2a3a44"/>
<circle cx="155.4" cy="3562.6" r="0.26" fill="#2a3a44"/>
<circle cx="155.2" cy="3564.1" r="0.26" fill="#2a3a44"/>
<circle cx="154.8" cy="3565.5" r="0.26" fill="#2a3a44"/>
<circle cx="154.3" cy="3567.0" r="0.26" fill="#2a3a44"/>
<circle cx="153.6" cy="3568.3" r="0.56" fill="#2a3a44"/>
<circle cx="152.8" cy="3569.6" r="0.26" fill="#2a3a44"/>
<circle cx="151.8" cy="3570.7" r="0.26" fill="#2a3a44"/>
<circle cx="150.7" cy="3571.8" r="0.26" fill="#2a3a44"/>
<circle cx="149.6" cy="3572.8" r="0.26" fill="#2a3a44"/>
<circle cx="148.3" cy="3573.6" r="0.56" fill="#2a3a44"/>
<circle cx="147.0" cy="3574.3" r="0.26" fill="#2a3a44"/>
<circle cx="145.5" cy="3574.8" r="0.26" fill="#2a3a44"/>
<circle cx="144.1" cy="3575.2" r="0.26" fill="#2a3a44"/>
<circle cx="142.6" cy="3575.4" r="0.26" fill="#2a3a44"/>
<circle cx="141.1" cy="3575.5" r="0.56" fill="#2a3a44"/>
<circle cx="139.6" cy="3575.4" r="0.26" fill="#2a3a44"/>
<circle cx="138.1" cy="3575.2" r="0.26" fill="#2a3a44"/>
<circle cx="136.7" cy="3574.8" r="0.26" fill="#2a3a44"/>
<circle cx="135.2" cy="3574.3" r="0.26" fill="#2a3a44"/>
<circle cx="133.9" cy="3573.6" r="0.56" fill="#2a3a44"/>
<circle cx="132.6" cy="3572.8" r="0.26" fill="#2a3a44"/>
<circle cx="131.5" cy="3571.8" r="0.26" fill="#2a3a44"/>
<circle cx="130.4" cy="3570.7" r="0.26" fill="#2a3a44"/>
<circle cx="129.4" cy="3569.6" r="0.26" fill="#2a3a44"/>
<circle cx="128.6" cy="3568.3" r="0.56" fill="#2a3a44"/>
<circle cx="127.9" cy="3567.0" r="0.26" fill="#2a3a44"/>
<circle cx="127.4" cy="3565.5" r="0.26" fill="#2a3a44"/>
<circle cx="127.0" cy="3564.1" r="0.26" fill="#2a3a44"/>
<circle cx="126.8" cy="3562.6" r="0.26" fill="#2a3a44"/>
<circle cx="126.7" cy="3561.1" r="0.56" fill="#2a3a44"/>
<circle cx="126.8" cy="3559.6" r="0.26" fill="#2a3a44"/>
<circle cx="127.0" cy="3558.1" r="0.26" fill="#2a3a44"/>
<circle cx="127.4" cy="3556.7" r="0.26" fill="#2a3a44"/>
<circle cx="127.9" cy="3555.2" r="0.26" fill="#2a3a44"/>
<circle cx="128.6" cy="3553.9" r="0.56" fill="#2a3a44"/>
<circle cx="129.4" cy="3552.6" r="0.26" fill="#2a3a44"/>
<circle cx="130.4" cy="3551.5" r="0.26" fill="#2a3a44"/>
<circle cx="131.5" cy="3550.4" r="0.26" fill="#2a3a44"/>
<circle cx="132.6" cy="3549.4" r="0.26" fill="#2a3a44"/>
<circle cx="133.9" cy="3548.6" r="0.56" fill="#2a3a44"/>
<circle cx="135.2" cy="3547.9" r="0.26" fill="#2a3a44"/>
<circle cx="136.7" cy="3547.4" r="0.26" fill="#2a3a44"/>
<circle cx="138.1" cy="3547.0" r="0.26" fill="#2a3a44"/>
<circle cx="139.6" cy="3546.8" r="0.26" fill="#2a3a44"/>
<text class="c b" x="141.1" y="3551.3" style="font-size:4.5px;fill:#222;font-family:'DejaVu Sans Condensed',sans-serif">12</text>
<text class="c b" x="152.6" y="3562.7" style="font-size:4.5px;fill:#222;font-family:'DejaVu Sans Condensed',sans-serif">3</text>
<text class="c b" x="141.1" y="3574.2" style="font-size:4.5px;fill:#222;font-family:'DejaVu Sans Condensed',sans-serif">6</text>
<text class="c b" x="129.6" y="3562.7" style="font-size:4.5px;fill:#222;font-family:'DejaVu Sans Condensed',sans-serif">9</text>
<line x1="141.1" y1="3561.1" x2="133.1" y2="3556.4" stroke="#1f3543" stroke-width="1.5" stroke-linecap="round"/>
<line x1="141.1" y1="3561.1" x2="149.9" y2="3550.6" stroke="#1f3543" stroke-width="1.1" stroke-linecap="round"/>
<circle cx="141.1" cy="3561.1" r="1.1" fill="#1f3543"/>
<rect x="191.8" y="3504.1" width="64.3" height="63.8" rx="8" fill="#154b73"/>
<path d="M191.8,3533 Q224,3526 256.1,3533 V3512.1 Q256.1,3504.1 248.1,3504.1 H199.8 Q191.8,3504.1 191.8,3512.1 Z" fill="#215f8c"/>
<path d="M222.8,3567.9 V3523 Q222.8,3516.9 229,3516.9 H242 V3526 H235 Q232.8,3526 232.8,3528.5 V3533.2 H240 V3541.4 H232.8 V3567.9 Z M216.4,3533.2 H224 V3541.4 H216.4 Z" fill="#fff"/>
<circle cx="252.9" cy="3559.7" r="19.5" fill="#f2f4f5"/>
<circle cx="252.9" cy="3559.7" r="17.0" fill="url(#gClockRing)"/>
<circle cx="252.9" cy="3559.7" r="15.7" fill="url(#gClockFace)"/>
<path d="M252.9,3559.7 L252.9,3544.0 A15.7,15.7 0 0 1 263.0,3547.7 Z" fill="#1f9be0"/>
<circle cx="252.9" cy="3545.5" r="0.55" fill="#2a3a44"/>
<circle cx="254.4" cy="3545.5" r="0.26" fill="#2a3a44"/>
<circle cx="255.9" cy="3545.8" r="0.26" fill="#2a3a44"/>
<circle cx="257.3" cy="3546.2" r="0.26" fill="#2a3a44"/>
<circle cx="258.7" cy="3546.7" r="0.26" fill="#2a3a44"/>
<circle cx="260.0" cy="3547.4" r="0.55" fill="#2a3a44"/>
<circle cx="261.3" cy="3548.2" r="0.26" fill="#2a3a44"/>
<circle cx="262.4" cy="3549.1" r="0.26" fill="#2a3a44"/>
<circle cx="263.5" cy="3550.2" r="0.26" fill="#2a3a44"/>
<circle cx="264.4" cy="3551.3" r="0.26" fill="#2a3a44"/>
<circle cx="265.2" cy="3552.6" r="0.55" fill="#2a3a44"/>
<circle cx="265.9" cy="3553.9" r="0.26" fill="#2a3a44"/>
<circle cx="266.4" cy="3555.3" r="0.26" fill="#2a3a44"/>
<circle cx="266.8" cy="3556.7" r="0.26" fill="#2a3a44"/>
<circle cx="267.1" cy="3558.2" r="0.26" fill="#2a3a44"/>
<circle cx="267.1" cy="3559.7" r="0.55" fill="#2a3a44"/>
<circle cx="267.1" cy="3561.2" r="0.26" fill="#2a3a44"/>
<circle cx="266.8" cy="3562.7" r="0.26" fill="#2a3a44"/>
<circle cx="266.4" cy="3564.1" r="0.26" fill="#2a3a44"/>
<circle cx="265.9" cy="3565.5" r="0.26" fill="#2a3a44"/>
<circle cx="265.2" cy="3566.8" r="0.55" fill="#2a3a44"/>
<circle cx="264.4" cy="3568.1" r="0.26" fill="#2a3a44"/>
<circle cx="263.5" cy="3569.2" r="0.26" fill="#2a3a44"/>
<circle cx="262.4" cy="3570.3" r="0.26" fill="#2a3a44"/>
<circle cx="261.3" cy="3571.2" r="0.26" fill="#2a3a44"/>
<circle cx="260.0" cy="3572.0" r="0.55" fill="#2a3a44"/>
<circle cx="258.7" cy="3572.7" r="0.26" fill="#2a3a44"/>
<circle cx="257.3" cy="3573.2" r="0.26" fill="#2a3a44"/>
<circle cx="255.9" cy="3573.6" r="0.26" fill="#2a3a44"/>
<circle cx="254.4" cy="3573.9" r="0.26" fill="#2a3a44"/>
<circle cx="252.9" cy="3573.9" r="0.55" fill="#2a3a44"/>
<circle cx="251.4" cy="3573.9" r="0.26" fill="#2a3a44"/>
<circle cx="249.9" cy="3573.6" r="0.26" fill="#2a3a44"/>
<circle cx="248.5" cy="3573.2" r="0.26" fill="#2a3a44"/>
<circle cx="247.1" cy="3572.7" r="0.26" fill="#2a3a44"/>
<circle cx="245.8" cy="3572.0" r="0.55" fill="#2a3a44"/>
<circle cx="244.5" cy="3571.2" r="0.26" fill="#2a3a44"/>
<circle cx="243.4" cy="3570.3" r="0.26" fill="#2a3a44"/>
<circle cx="242.3" cy="3569.2" r="0.26" fill="#2a3a44"/>
<circle cx="241.4" cy="3568.1" r="0.26" fill="#2a3a44"/>
<circle cx="240.6" cy="3566.8" r="0.55" fill="#2a3a44"/>
<circle cx="239.9" cy="3565.5" r="0.26" fill="#2a3a44"/>
<circle cx="239.4" cy="3564.1" r="0.26" fill="#2a3a44"/>
<circle cx="239.0" cy="3562.7" r="0.26" fill="#2a3a44"/>
<circle cx="238.7" cy="3561.2" r="0.26" fill="#2a3a44"/>
<circle cx="238.7" cy="3559.7" r="0.55" fill="#2a3a44"/>
<circle cx="238.7" cy="3558.2" r="0.26" fill="#2a3a44"/>
<circle cx="239.0" cy="3556.7" r="0.26" fill="#2a3a44"/>
<circle cx="239.4" cy="3555.3" r="0.26" fill="#2a3a44"/>
<circle cx="239.9" cy="3553.9" r="0.26" fill="#2a3a44"/>
<circle cx="240.6" cy="3552.6" r="0.55" fill="#2a3a44"/>
<circle cx="241.4" cy="3551.3" r="0.26" fill="#2a3a44"/>
<circle cx="242.3" cy="3550.2" r="0.26" fill="#2a3a44"/>
<circle cx="243.4" cy="3549.1" r="0.26" fill="#2a3a44"/>
<circle cx="244.5" cy="3548.2" r="0.26" fill="#2a3a44"/>
<circle cx="245.8" cy="3547.4" r="0.55" fill="#2a3a44"/>
<circle cx="247.1" cy="3546.7" r="0.26" fill="#2a3a44"/>
<circle cx="248.5" cy="3546.2" r="0.26" fill="#2a3a44"/>
<circle cx="249.9" cy="3545.8" r="0.26" fill="#2a3a44"/>
<circle cx="251.4" cy="3545.5" r="0.26" fill="#2a3a44"/>
<text class="c b" x="252.9" y="3550.0" style="font-size:4.5px;fill:#222;font-family:'DejaVu Sans Condensed',sans-serif">12</text>
<text class="c b" x="264.2" y="3561.3" style="font-size:4.5px;fill:#222;font-family:'DejaVu Sans Condensed',sans-serif">3</text>
<text class="c b" x="252.9" y="3572.6" style="font-size:4.5px;fill:#222;font-family:'DejaVu Sans Condensed',sans-serif">6</text>
<text class="c b" x="241.6" y="3561.3" style="font-size:4.5px;fill:#222;font-family:'DejaVu Sans Condensed',sans-serif">9</text>
<line x1="252.9" y1="3559.7" x2="245.0" y2="3555.0" stroke="#1f3543" stroke-width="1.4" stroke-linecap="round"/>
<line x1="252.9" y1="3559.7" x2="261.6" y2="3549.3" stroke="#1f3543" stroke-width="1.1" stroke-linecap="round"/>
<circle cx="252.9" cy="3559.7" r="1.1" fill="#1f3543"/>
<rect x="318.5" y="3500.5" width="60" height="44" fill="url(#gEnv)"/><path d="M318.5,3500.5 L348.5,3518.98 L378.5,3500.5" fill="none" stroke="#d6d6d6" stroke-width="1"/><path d="M318.5,3544.5 L342.5,3520.3 M378.5,3544.5 L354.5,3520.3" fill="none" stroke="#e4e4e4" stroke-width="1"/>
<rect x="309" y="3510" width="60" height="44" fill="url(#gEnv)"/><path d="M309,3510 L339.0,3528.48 L369,3510" fill="none" stroke="#d6d6d6" stroke-width="1"/><path d="M309,3554 L333.0,3529.8 M369,3554 L345.0,3529.8" fill="none" stroke="#e4e4e4" stroke-width="1"/>
<rect x="299.4" y="3519" width="60" height="44" fill="url(#gEnv)"/><path d="M299.4,3519 L329.4,3537.48 L359.4,3519" fill="none" stroke="#d6d6d6" stroke-width="1"/><path d="M299.4,3563 L323.4,3538.8 M359.4,3563 L335.4,3538.8" fill="none" stroke="#e4e4e4" stroke-width="1"/>
<rect x="431.5" y="3507" width="60.2" height="60.3" rx="3" fill="#f26522"/>
<circle cx="445" cy="3554" r="5.2" fill="#fff"/>
<path d="M439.8,3531.5 A22.5,22.5 0 0 1 462.3,3554" fill="none" stroke="#fff" stroke-width="7"/>
<path d="M439.8,3517 A37,37 0 0 1 476.8,3554" fill="none" stroke="#fff" stroke-width="7"/>
<rect x="565.3" y="3514.7" width="26.3" height="51.6" rx="4" fill="#141414"/>
<rect x="567.6" y="3524" width="21.7" height="33.3" fill="url(#gScreen)"/>
<circle cx="578.5" cy="3561.8" r="1.8" fill="#444"/>
<circle cx="579.3" cy="3539.3" r="35" fill="none" stroke="#d0242b" stroke-width="5.7"/>
<line x1="554.5" y1="3514.5" x2="604" y2="3564" stroke="#d0242b" stroke-width="5.7"/>
<circle cx="704.3" cy="3539" r="25.8" fill="#f2f4f5"/>
<circle cx="704.3" cy="3539" r="22.6" fill="url(#gClockRing)"/>
<circle cx="704.3" cy="3539" r="20.7" fill="url(#gClockFace)"/>
<circle cx="704.3" cy="3520.2" r="0.73" fill="#2a3a44"/>
<circle cx="706.3" cy="3520.3" r="0.34" fill="#2a3a44"/>
<circle cx="708.2" cy="3520.6" r="0.34" fill="#2a3a44"/>
<circle cx="710.1" cy="3521.1" r="0.34" fill="#2a3a44"/>
<circle cx="712.0" cy="3521.8" r="0.34" fill="#2a3a44"/>
<circle cx="713.7" cy="3522.7" r="0.73" fill="#2a3a44"/>
<circle cx="715.4" cy="3523.8" r="0.34" fill="#2a3a44"/>
<circle cx="716.9" cy="3525.0" r="0.34" fill="#2a3a44"/>
<circle cx="718.3" cy="3526.4" r="0.34" fill="#2a3a44"/>
<circle cx="719.5" cy="3527.9" r="0.34" fill="#2a3a44"/>
<circle cx="720.6" cy="3529.6" r="0.73" fill="#2a3a44"/>
<circle cx="721.5" cy="3531.3" r="0.34" fill="#2a3a44"/>
<circle cx="722.2" cy="3533.2" r="0.34" fill="#2a3a44"/>
<circle cx="722.7" cy="3535.1" r="0.34" fill="#2a3a44"/>
<circle cx="723.0" cy="3537.0" r="0.34" fill="#2a3a44"/>
<circle cx="723.1" cy="3539.0" r="0.73" fill="#2a3a44"/>
<circle cx="723.0" cy="3541.0" r="0.34" fill="#2a3a44"/>
<circle cx="722.7" cy="3542.9" r="0.34" fill="#2a3a44"/>
<circle cx="722.2" cy="3544.8" r="0.34" fill="#2a3a44"/>
<circle cx="721.5" cy="3546.7" r="0.34" fill="#2a3a44"/>
<circle cx="720.6" cy="3548.4" r="0.73" fill="#2a3a44"/>
<circle cx="719.5" cy="3550.1" r="0.34" fill="#2a3a44"/>
<circle cx="718.3" cy="3551.6" r="0.34" fill="#2a3a44"/>
<circle cx="716.9" cy="3553.0" r="0.34" fill="#2a3a44"/>
<circle cx="715.4" cy="3554.2" r="0.34" fill="#2a3a44"/>
<circle cx="713.7" cy="3555.3" r="0.73" fill="#2a3a44"/>
<circle cx="712.0" cy="3556.2" r="0.34" fill="#2a3a44"/>
<circle cx="710.1" cy="3556.9" r="0.34" fill="#2a3a44"/>
<circle cx="708.2" cy="3557.4" r="0.34" fill="#2a3a44"/>
<circle cx="706.3" cy="3557.7" r="0.34" fill="#2a3a44"/>
<circle cx="704.3" cy="3557.8" r="0.73" fill="#2a3a44"/>
<circle cx="702.3" cy="3557.7" r="0.34" fill="#2a3a44"/>
<circle cx="700.4" cy="3557.4" r="0.34" fill="#2a3a44"/>
<circle cx="698.5" cy="3556.9" r="0.34" fill="#2a3a44"/>
<circle cx="696.6" cy="3556.2" r="0.34" fill="#2a3a44"/>
<circle cx="694.9" cy="3555.3" r="0.73" fill="#2a3a44"/>
<circle cx="693.2" cy="3554.2" r="0.34" fill="#2a3a44"/>
<circle cx="691.7" cy="3553.0" r="0.34" fill="#2a3a44"/>
<circle cx="690.3" cy="3551.6" r="0.34" fill="#2a3a44"/>
<circle cx="689.1" cy="3550.1" r="0.34" fill="#2a3a44"/>
<circle cx="688.0" cy="3548.4" r="0.73" fill="#2a3a44"/>
<circle cx="687.1" cy="3546.7" r="0.34" fill="#2a3a44"/>
<circle cx="686.4" cy="3544.8" r="0.34" fill="#2a3a44"/>
<circle cx="685.9" cy="3542.9" r="0.34" fill="#2a3a44"/>
<circle cx="685.6" cy="3541.0" r="0.34" fill="#2a3a44"/>
<circle cx="685.5" cy="3539.0" r="0.73" fill="#2a3a44"/>
<circle cx="685.6" cy="3537.0" r="0.34" fill="#2a3a44"/>
<circle cx="685.9" cy="3535.1" r="0.34" fill="#2a3a44"/>
<circle cx="686.4" cy="3533.2" r="0.34" fill="#2a3a44"/>
<circle cx="687.1" cy="3531.3" r="0.34" fill="#2a3a44"/>
<circle cx="688.0" cy="3529.6" r="0.73" fill="#2a3a44"/>
<circle cx="689.1" cy="3527.9" r="0.34" fill="#2a3a44"/>
<circle cx="690.3" cy="3526.4" r="0.34" fill="#2a3a44"/>
<circle cx="691.7" cy="3525.0" r="0.34" fill="#2a3a44"/>
<circle cx="693.2" cy="3523.8" r="0.34" fill="#2a3a44"/>
<circle cx="694.9" cy="3522.7" r="0.73" fill="#2a3a44"/>
<circle cx="696.6" cy="3521.8" r="0.34" fill="#2a3a44"/>
<circle cx="698.5" cy="3521.1" r="0.34" fill="#2a3a44"/>
<circle cx="700.4" cy="3520.6" r="0.34" fill="#2a3a44"/>
<circle cx="702.3" cy="3520.3" r="0.34" fill="#2a3a44"/>
<text class="c b" x="704.3" y="3526.1" style="font-size:5.9px;fill:#222;font-family:'DejaVu Sans Condensed',sans-serif">12</text>
<text class="c b" x="719.3" y="3541.1" style="font-size:5.9px;fill:#222;font-family:'DejaVu Sans Condensed',sans-serif">3</text>
<text class="c b" x="704.3" y="3556.1" style="font-size:5.9px;fill:#222;font-family:'DejaVu Sans Condensed',sans-serif">6</text>
<text class="c b" x="689.3" y="3541.1" style="font-size:5.9px;fill:#222;font-family:'DejaVu Sans Condensed',sans-serif">9</text>
<line x1="704.3" y1="3539" x2="693.9" y2="3532.8" stroke="#1f3543" stroke-width="1.9" stroke-linecap="round"/>
<line x1="704.3" y1="3539" x2="717.0" y2="3526.3" stroke="#1f3543" stroke-width="1.5" stroke-linecap="round"/>
<circle cx="704.3" cy="3539" r="1.5" fill="#1f3543"/>
<circle cx="704.7" cy="3539.3" r="35" fill="none" stroke="#d0242b" stroke-width="5.7"/>
<line x1="679.9" y1="3514.5" x2="729.4" y2="3564" stroke="#d0242b" stroke-width="5.7"/>
<text class="c" x="101.8" y="3594.5">Limit the number</text><text class="c" x="101.8" y="3610.1">of times you log</text><text class="c" x="101.8" y="3625.7">into email each</text><text class="c" x="101.8" y="3641.3">day.</text>
<text class="c" x="224.5" y="3594.5">Designate a time</text><text class="c" x="224.5" y="3610.1">to check your</text><text class="c" x="224.5" y="3625.7">social network-</text><text class="c" x="224.5" y="3641.3">ing sites or the</text><text class="c" x="224.5" y="3656.9">news.</text>
<text class="c" x="337" y="3594.5">Wait every few</text><text class="c" x="337" y="3610.1">hours and send</text><text class="c" x="337" y="3625.7">messages in</text><text class="c" x="337" y="3641.3">batches.</text>
<text class="c" x="466" y="3594.5">Subscribe to your</text><text class="c" x="466" y="3610.1">favorite sites' RSS</text><text class="c" x="466" y="3625.7">feeds so you can</text><text class="c" x="466" y="3641.3">read the blogs'</text><text class="c" x="466" y="3656.9">updates at once.</text>
<text class="c" x="575.5" y="3594.5">Set up tech-</text><text class="c" x="575.5" y="3610.1">free time with</text><text class="c" x="575.5" y="3625.7">your family</text><text class="c" x="575.5" y="3641.3">and friends</text><text class="c" x="575.5" y="3656.9">daily.</text>
<text class="c" x="709.5" y="3594.5">State you're no</text><text class="c" x="709.5" y="3610.1">longer reachable</text><text class="c" x="709.5" y="3625.7">after a certain</text><text class="c" x="709.5" y="3641.3">hour.</text>
<text x="58.3" y="3696.5" style="fill:#fff;font-size:13px"><tspan style="font-family:'DejaVu Sans Condensed',sans-serif;font-weight:bold;font-size:19px" textLength="75">Sources:</tspan> nytimes.com | npr.org | mediatapper.com | pewinternet.org |slate.com |</text>
<text x="58.3" y="3711.5" style="fill:#fff;font-size:13px">shine.yahoo.com | dailymail.co.uk |psychologytoday.com| forensicpsychology.net |</text>
<text x="58.3" y="3726.7" style="fill:#fff;font-size:13px">today.uci.edu | | bizreport.com | livescience.com | theworkbuzz.com |</text>
<text x="58.3" y="3742" style="fill:#fff;font-size:13px">Information provided by: http://www.onlineuniversities.com/</text>
<path d="M551.2,3709.6 V3705.4 A9.55,9.55 0 0 1 570.3,3705.4 V3709.6" fill="none" stroke="#7ad6b0" stroke-width="6"/>
<path d="M551.2,3709.6 V3724.4 A9.55,9.55 0 0 0 570.3,3724.4 V3709.6" fill="none" stroke="#fff" stroke-width="6"/>
<text x="581.6" y="3723.3" textLength="204" lengthAdjust="spacingAndGlyphs" style="font-family:'DejaVu Sans Condensed',sans-serif;font-size:22px;fill:#fff"><tspan style="fill:#7fd8b5">Online</tspan>Universities<tspan style="fill:#a9bccb">.com</tspan></text>

</svg>
</body></html>
